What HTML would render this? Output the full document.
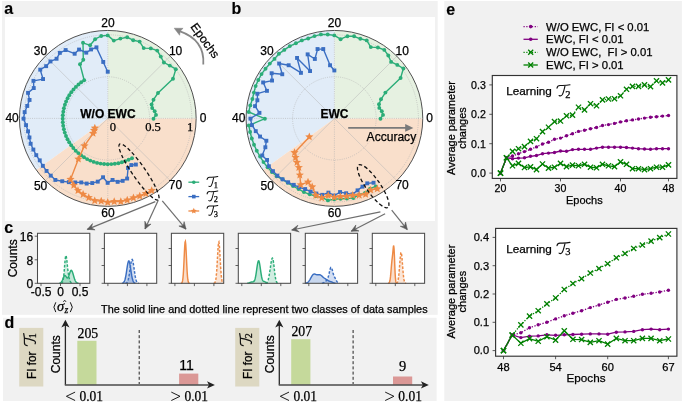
<!DOCTYPE html>
<html><head><meta charset="utf-8"><style>
html,body{margin:0;padding:0;background:#fff}
body{width:685px;height:402px;overflow:hidden;position:relative;font-family:"Liberation Sans",sans-serif}
svg{position:absolute;left:0;top:0;display:block;will-change:transform}
text{stroke:#000;stroke-width:0.25px}
</style></head><body>
<svg width="685" height="402" viewBox="0 0 685 402">
<rect x="0" y="0" width="685" height="402" fill="#fff"/>
<rect x="2" y="1" width="435.7" height="313.8" fill="#f1f1f1"/>
<rect x="3" y="317.8" width="433.6" height="83.2" fill="#f1f1f1"/>
<rect x="444.3" y="1" width="237.6" height="400" fill="#f1f1f1"/>
<rect x="5" y="17" width="430" height="204" fill="#fff"/>
<text x="4.2" y="14.2" font-family='"Liberation Sans", sans-serif' font-size="16" font-weight="bold" style="stroke-width:0.15px">a</text>
<text x="231.4" y="14.0" font-family='"Liberation Sans", sans-serif' font-size="16" font-weight="bold" style="stroke-width:0.15px">b</text>
<text x="4.3" y="233" font-family='"Liberation Sans", sans-serif' font-size="16" font-weight="bold" style="stroke-width:0.15px">c</text>
<text x="4.5" y="327.5" font-family='"Liberation Sans", sans-serif' font-size="16" font-weight="bold" style="stroke-width:0.15px">d</text>
<text x="446.3" y="14.6" font-family='"Liberation Sans", sans-serif' font-size="16" font-weight="bold" style="stroke-width:0.15px">e</text>
<g transform="translate(107.8,118.4) scale(1,0.99547) translate(-107.8,-118.4)">
<path d="M107.8,118.4 L196.15,118.40 A88.35,88.35 0 0 0 107.80,30.05 Z" fill="#e6f1e1"/>
<path d="M107.8,118.4 L107.80,30.05 A88.35,88.35 0 0 0 36.32,170.33 Z" fill="#e1ecf8"/>
<path d="M107.8,118.4 L36.32,170.33 A88.35,88.35 0 0 0 196.15,118.40 Z" fill="#f9dfcb"/>
<circle cx="107.8" cy="118.4" r="41.8" fill="none" stroke="#b0b0b0" stroke-width="0.6" stroke-dasharray="1,1.2"/>
<circle cx="107.8" cy="118.4" r="84" fill="none" stroke="#b0b0b0" stroke-width="0.6" stroke-dasharray="1,1.2"/>
<line x1="107.8" y1="118.4" x2="196.15" y2="118.40" stroke="#b0b0b0" stroke-width="0.6" stroke-dasharray="1,1.2"/>
<line x1="107.8" y1="118.4" x2="170.27" y2="55.93" stroke="#b4b4b4" stroke-width="0.5"/>
<line x1="107.8" y1="118.4" x2="107.80" y2="30.05" stroke="#b0b0b0" stroke-width="0.6" stroke-dasharray="1,1.2"/>
<line x1="107.8" y1="118.4" x2="45.33" y2="55.93" stroke="#b4b4b4" stroke-width="0.5"/>
<line x1="107.8" y1="118.4" x2="19.45" y2="118.40" stroke="#b0b0b0" stroke-width="0.6" stroke-dasharray="1,1.2"/>
<line x1="107.8" y1="118.4" x2="45.33" y2="180.87" stroke="#b4b4b4" stroke-width="0.5"/>
<line x1="107.8" y1="118.4" x2="107.80" y2="206.75" stroke="#b0b0b0" stroke-width="0.6" stroke-dasharray="1,1.2"/>
<line x1="107.8" y1="118.4" x2="170.27" y2="180.87" stroke="#b4b4b4" stroke-width="0.5"/>
<circle cx="107.8" cy="118.4" r="88.35" fill="none" stroke="#505050" stroke-width="1"/>
</g>
<text x="203.0" y="121.8" font-family='"Liberation Sans", sans-serif' font-size="12" text-anchor="middle">0</text>
<text x="175.6" y="54.5" font-family='"Liberation Sans", sans-serif' font-size="12" text-anchor="middle">10</text>
<text x="107.9" y="27.0" font-family='"Liberation Sans", sans-serif' font-size="12" text-anchor="middle">20</text>
<text x="40.4" y="54.9" font-family='"Liberation Sans", sans-serif' font-size="12" text-anchor="middle">30</text>
<text x="12.1" y="122.0" font-family='"Liberation Sans", sans-serif' font-size="12" text-anchor="middle">40</text>
<text x="40.6" y="189.7" font-family='"Liberation Sans", sans-serif' font-size="12" text-anchor="middle">50</text>
<text x="107.9" y="216.9" font-family='"Liberation Sans", sans-serif' font-size="12" text-anchor="middle">60</text>
<text x="175.5" y="189.4" font-family='"Liberation Sans", sans-serif' font-size="12" text-anchor="middle">70</text>
<polyline points="153.5,118.7 156.0,114.9 154.7,111.3 152.2,108.0 151.6,104.4 153.5,99.7 158.0,93.0 173.0,78.7 175.8,69.2 169.8,65.6 163.9,62.5 160.8,56.6 157.2,50.6 150.8,48.4 143.7,48.1 139.6,41.6 133.2,40.2 127.2,37.3 120.4,38.6 113.8,40.6 107.7,35.4 101.2,36.0 95.1,39.2 90.1,45.3 83.0,42.8 83.3,59.8 80.0,64.3 84.2,80.3 81.2,82.3 78.5,84.5 75.9,86.9 73.5,89.5 71.3,92.2 69.3,95.2 67.6,98.3 66.1,101.5 64.9,104.8 63.9,108.2 63.3,111.7 62.8,115.2 62.7,118.7 62.8,122.2 63.2,125.7 63.9,129.2 64.8,132.6 66.0,136.0 67.5,139.2 69.2,142.3 71.2,145.2 73.3,148.0 75.7,150.7 78.3,153.1 81.1,155.3 84.0,157.3 87.1,159.1 90.3,160.6 93.7,161.9 97.1,162.9 100.6,163.6 104.1,164.0 107.7,164.2 111.3,164.1 114.8,163.8 118.4,163.2 121.9,162.3 125.3,161.1 128.6,159.7 132.0,158.3" fill="none" stroke="#2bad78" stroke-width="1.4" stroke-linejoin="round" />
<circle cx="153.5" cy="118.7" r="1.95" fill="#2bad78"/>
<circle cx="156.0" cy="114.9" r="1.95" fill="#2bad78"/>
<circle cx="154.7" cy="111.3" r="1.95" fill="#2bad78"/>
<circle cx="152.2" cy="108.0" r="1.95" fill="#2bad78"/>
<circle cx="151.6" cy="104.4" r="1.95" fill="#2bad78"/>
<circle cx="153.5" cy="99.7" r="1.95" fill="#2bad78"/>
<circle cx="158.0" cy="93.0" r="1.95" fill="#2bad78"/>
<circle cx="173.0" cy="78.7" r="1.95" fill="#2bad78"/>
<circle cx="175.8" cy="69.2" r="1.95" fill="#2bad78"/>
<circle cx="169.8" cy="65.6" r="1.95" fill="#2bad78"/>
<circle cx="163.9" cy="62.5" r="1.95" fill="#2bad78"/>
<circle cx="160.8" cy="56.6" r="1.95" fill="#2bad78"/>
<circle cx="157.2" cy="50.6" r="1.95" fill="#2bad78"/>
<circle cx="150.8" cy="48.4" r="1.95" fill="#2bad78"/>
<circle cx="143.7" cy="48.1" r="1.95" fill="#2bad78"/>
<circle cx="139.6" cy="41.6" r="1.95" fill="#2bad78"/>
<circle cx="133.2" cy="40.2" r="1.95" fill="#2bad78"/>
<circle cx="127.2" cy="37.3" r="1.95" fill="#2bad78"/>
<circle cx="120.4" cy="38.6" r="1.95" fill="#2bad78"/>
<circle cx="113.8" cy="40.6" r="1.95" fill="#2bad78"/>
<circle cx="107.7" cy="35.4" r="1.95" fill="#2bad78"/>
<circle cx="101.2" cy="36.0" r="1.95" fill="#2bad78"/>
<circle cx="95.1" cy="39.2" r="1.95" fill="#2bad78"/>
<circle cx="90.1" cy="45.3" r="1.95" fill="#2bad78"/>
<circle cx="83.0" cy="42.8" r="1.95" fill="#2bad78"/>
<circle cx="83.3" cy="59.8" r="1.95" fill="#2bad78"/>
<circle cx="80.0" cy="64.3" r="1.95" fill="#2bad78"/>
<circle cx="84.2" cy="80.3" r="1.95" fill="#2bad78"/>
<circle cx="81.2" cy="82.3" r="1.95" fill="#2bad78"/>
<circle cx="78.5" cy="84.5" r="1.95" fill="#2bad78"/>
<circle cx="75.9" cy="86.9" r="1.95" fill="#2bad78"/>
<circle cx="73.5" cy="89.5" r="1.95" fill="#2bad78"/>
<circle cx="71.3" cy="92.2" r="1.95" fill="#2bad78"/>
<circle cx="69.3" cy="95.2" r="1.95" fill="#2bad78"/>
<circle cx="67.6" cy="98.3" r="1.95" fill="#2bad78"/>
<circle cx="66.1" cy="101.5" r="1.95" fill="#2bad78"/>
<circle cx="64.9" cy="104.8" r="1.95" fill="#2bad78"/>
<circle cx="63.9" cy="108.2" r="1.95" fill="#2bad78"/>
<circle cx="63.3" cy="111.7" r="1.95" fill="#2bad78"/>
<circle cx="62.8" cy="115.2" r="1.95" fill="#2bad78"/>
<circle cx="62.7" cy="118.7" r="1.95" fill="#2bad78"/>
<circle cx="62.8" cy="122.2" r="1.95" fill="#2bad78"/>
<circle cx="63.2" cy="125.7" r="1.95" fill="#2bad78"/>
<circle cx="63.9" cy="129.2" r="1.95" fill="#2bad78"/>
<circle cx="64.8" cy="132.6" r="1.95" fill="#2bad78"/>
<circle cx="66.0" cy="136.0" r="1.95" fill="#2bad78"/>
<circle cx="67.5" cy="139.2" r="1.95" fill="#2bad78"/>
<circle cx="69.2" cy="142.3" r="1.95" fill="#2bad78"/>
<circle cx="71.2" cy="145.2" r="1.95" fill="#2bad78"/>
<circle cx="73.3" cy="148.0" r="1.95" fill="#2bad78"/>
<circle cx="75.7" cy="150.7" r="1.95" fill="#2bad78"/>
<circle cx="78.3" cy="153.1" r="1.95" fill="#2bad78"/>
<circle cx="81.1" cy="155.3" r="1.95" fill="#2bad78"/>
<circle cx="84.0" cy="157.3" r="1.95" fill="#2bad78"/>
<circle cx="87.1" cy="159.1" r="1.95" fill="#2bad78"/>
<circle cx="90.3" cy="160.6" r="1.95" fill="#2bad78"/>
<circle cx="93.7" cy="161.9" r="1.95" fill="#2bad78"/>
<circle cx="97.1" cy="162.9" r="1.95" fill="#2bad78"/>
<circle cx="100.6" cy="163.6" r="1.95" fill="#2bad78"/>
<circle cx="104.1" cy="164.0" r="1.95" fill="#2bad78"/>
<circle cx="107.7" cy="164.2" r="1.95" fill="#2bad78"/>
<circle cx="111.3" cy="164.1" r="1.95" fill="#2bad78"/>
<circle cx="114.8" cy="163.8" r="1.95" fill="#2bad78"/>
<circle cx="118.4" cy="163.2" r="1.95" fill="#2bad78"/>
<circle cx="121.9" cy="162.3" r="1.95" fill="#2bad78"/>
<circle cx="125.3" cy="161.1" r="1.95" fill="#2bad78"/>
<circle cx="128.6" cy="159.7" r="1.95" fill="#2bad78"/>
<circle cx="132.0" cy="158.3" r="1.95" fill="#2bad78"/>
<polyline points="107.7,71.7 103.2,62.0 96.4,47.4 91.1,49.5 86.3,52.7 79.0,49.5 74.6,53.7 65.6,50.1 59.9,52.8 56.5,58.8 50.4,61.4 46.2,66.2 40.2,69.7 43.1,79.1 33.5,80.9 33.8,88.1 28.1,92.8 29.5,99.9 27.2,106.0 24.7,112.2 23.5,118.7 26.1,125.1 28.1,131.3 29.4,137.5 30.7,143.7 33.3,149.5 36.2,155.1 39.7,160.3 42.8,165.8 46.6,170.9 50.8,175.6 55.4,180.0 62.3,181.2 68.8,182.1 75.2,182.4 81.3,182.4 86.6,183.6 92.2,183.1 97.7,181.6 103.1,177.2 107.7,182.8 112.5,179.9 117.7,181.8 122.6,180.8 127.1,178.5 128.1,167.9 131.3,165.0 135.8,164.6" fill="none" stroke="#3a6ec2" stroke-width="1.4" stroke-linejoin="round" />
<rect x="105.8" y="69.8" width="3.9" height="3.9" fill="#3a6ec2"/>
<rect x="101.3" y="60.0" width="3.9" height="3.9" fill="#3a6ec2"/>
<rect x="94.5" y="45.4" width="3.9" height="3.9" fill="#3a6ec2"/>
<rect x="89.1" y="47.5" width="3.9" height="3.9" fill="#3a6ec2"/>
<rect x="84.3" y="50.7" width="3.9" height="3.9" fill="#3a6ec2"/>
<rect x="77.1" y="47.6" width="3.9" height="3.9" fill="#3a6ec2"/>
<rect x="72.7" y="51.8" width="3.9" height="3.9" fill="#3a6ec2"/>
<rect x="63.7" y="48.1" width="3.9" height="3.9" fill="#3a6ec2"/>
<rect x="57.9" y="50.9" width="3.9" height="3.9" fill="#3a6ec2"/>
<rect x="54.6" y="56.8" width="3.9" height="3.9" fill="#3a6ec2"/>
<rect x="48.5" y="59.5" width="3.9" height="3.9" fill="#3a6ec2"/>
<rect x="44.2" y="64.2" width="3.9" height="3.9" fill="#3a6ec2"/>
<rect x="38.3" y="67.7" width="3.9" height="3.9" fill="#3a6ec2"/>
<rect x="41.1" y="77.1" width="3.9" height="3.9" fill="#3a6ec2"/>
<rect x="31.5" y="78.9" width="3.9" height="3.9" fill="#3a6ec2"/>
<rect x="31.8" y="86.1" width="3.9" height="3.9" fill="#3a6ec2"/>
<rect x="26.1" y="90.9" width="3.9" height="3.9" fill="#3a6ec2"/>
<rect x="27.6" y="98.0" width="3.9" height="3.9" fill="#3a6ec2"/>
<rect x="25.3" y="104.0" width="3.9" height="3.9" fill="#3a6ec2"/>
<rect x="22.7" y="110.2" width="3.9" height="3.9" fill="#3a6ec2"/>
<rect x="21.6" y="116.7" width="3.9" height="3.9" fill="#3a6ec2"/>
<rect x="24.1" y="123.2" width="3.9" height="3.9" fill="#3a6ec2"/>
<rect x="26.1" y="129.4" width="3.9" height="3.9" fill="#3a6ec2"/>
<rect x="27.5" y="135.5" width="3.9" height="3.9" fill="#3a6ec2"/>
<rect x="28.7" y="141.8" width="3.9" height="3.9" fill="#3a6ec2"/>
<rect x="31.4" y="147.6" width="3.9" height="3.9" fill="#3a6ec2"/>
<rect x="34.3" y="153.2" width="3.9" height="3.9" fill="#3a6ec2"/>
<rect x="37.8" y="158.4" width="3.9" height="3.9" fill="#3a6ec2"/>
<rect x="40.9" y="163.9" width="3.9" height="3.9" fill="#3a6ec2"/>
<rect x="44.6" y="169.0" width="3.9" height="3.9" fill="#3a6ec2"/>
<rect x="48.8" y="173.7" width="3.9" height="3.9" fill="#3a6ec2"/>
<rect x="53.4" y="178.0" width="3.9" height="3.9" fill="#3a6ec2"/>
<rect x="60.3" y="179.3" width="3.9" height="3.9" fill="#3a6ec2"/>
<rect x="66.9" y="180.2" width="3.9" height="3.9" fill="#3a6ec2"/>
<rect x="73.3" y="180.5" width="3.9" height="3.9" fill="#3a6ec2"/>
<rect x="79.3" y="180.5" width="3.9" height="3.9" fill="#3a6ec2"/>
<rect x="84.7" y="181.6" width="3.9" height="3.9" fill="#3a6ec2"/>
<rect x="90.3" y="181.1" width="3.9" height="3.9" fill="#3a6ec2"/>
<rect x="95.8" y="179.7" width="3.9" height="3.9" fill="#3a6ec2"/>
<rect x="101.1" y="175.3" width="3.9" height="3.9" fill="#3a6ec2"/>
<rect x="105.7" y="180.9" width="3.9" height="3.9" fill="#3a6ec2"/>
<rect x="110.6" y="178.0" width="3.9" height="3.9" fill="#3a6ec2"/>
<rect x="115.7" y="179.9" width="3.9" height="3.9" fill="#3a6ec2"/>
<rect x="120.7" y="178.9" width="3.9" height="3.9" fill="#3a6ec2"/>
<rect x="125.2" y="176.6" width="3.9" height="3.9" fill="#3a6ec2"/>
<rect x="126.1" y="166.0" width="3.9" height="3.9" fill="#3a6ec2"/>
<rect x="129.4" y="163.1" width="3.9" height="3.9" fill="#3a6ec2"/>
<rect x="133.9" y="162.6" width="3.9" height="3.9" fill="#3a6ec2"/>
<polyline points="94.8,128.0 94.0,130.4 93.1,133.3 84.4,145.9 78.4,159.1 70.5,179.4 73.8,185.3 78.0,190.5 83.1,194.4 88.7,197.7 94.7,200.7 101.2,200.9 107.7,202.2 114.2,201.5 120.8,201.6 127.2,200.1 133.4,197.9 139.7,196.0 145.8,193.5 151.7,190.5" fill="none" stroke="#ee8a45" stroke-width="1.4" stroke-linejoin="round" />
<path d="M94.84,123.75 L95.97,126.48 L98.93,126.72 L96.68,128.64 L97.36,131.52 L94.84,129.98 L92.31,131.52 L93.00,128.64 L90.75,126.72 L93.70,126.48Z M94.01,126.09 L95.15,128.82 L98.10,129.06 L95.85,130.99 L96.54,133.87 L94.01,132.33 L91.49,133.87 L92.17,130.99 L89.92,129.06 L92.88,128.82Z M93.06,129.04 L94.20,131.77 L97.15,132.01 L94.90,133.94 L95.59,136.82 L93.06,135.27 L90.54,136.82 L91.22,133.94 L88.97,132.01 L91.93,131.77Z M84.45,141.62 L85.59,144.36 L88.54,144.59 L86.29,146.52 L86.98,149.40 L84.45,147.86 L81.92,149.40 L82.61,146.52 L80.36,144.59 L83.31,144.36Z M78.37,154.77 L79.51,157.50 L82.46,157.74 L80.21,159.67 L80.90,162.55 L78.37,161.00 L75.84,162.55 L76.53,159.67 L74.28,157.74 L77.23,157.50Z M70.50,175.11 L71.64,177.84 L74.59,178.08 L72.34,180.01 L73.03,182.89 L70.50,181.34 L67.97,182.89 L68.66,180.01 L66.41,178.08 L69.36,177.84Z M73.79,180.96 L74.92,183.69 L77.88,183.93 L75.63,185.86 L76.31,188.74 L73.79,187.19 L71.26,188.74 L71.95,185.86 L69.70,183.93 L72.65,183.69Z M77.97,186.19 L79.10,188.92 L82.06,189.16 L79.81,191.08 L80.49,193.96 L77.97,192.42 L75.44,193.96 L76.13,191.08 L73.88,189.16 L76.83,188.92Z M83.10,190.10 L84.24,192.84 L87.19,193.08 L84.94,195.00 L85.63,197.88 L83.10,196.34 L80.57,197.88 L81.26,195.00 L79.01,193.08 L81.96,192.84Z M88.74,193.36 L89.88,196.09 L92.83,196.33 L90.58,198.25 L91.27,201.14 L88.74,199.59 L86.22,201.14 L86.90,198.25 L84.65,196.33 L87.61,196.09Z M94.72,196.38 L95.85,199.11 L98.81,199.35 L96.56,201.28 L97.24,204.16 L94.72,202.61 L92.19,204.16 L92.88,201.28 L90.63,199.35 L93.58,199.11Z M101.23,196.65 L102.36,199.38 L105.32,199.62 L103.07,201.54 L103.75,204.42 L101.23,202.88 L98.70,204.42 L99.39,201.54 L97.14,199.62 L100.09,199.38Z M107.70,197.90 L108.84,200.63 L111.79,200.87 L109.54,202.80 L110.23,205.68 L107.70,204.13 L105.17,205.68 L105.86,202.80 L103.61,200.87 L106.56,200.63Z M114.22,197.24 L115.36,199.98 L118.31,200.22 L116.06,202.14 L116.75,205.02 L114.22,203.48 L111.69,205.02 L112.38,202.14 L110.13,200.22 L113.08,199.98Z M120.82,197.27 L121.96,200.00 L124.91,200.24 L122.67,202.16 L123.35,205.05 L120.82,203.50 L118.30,205.05 L118.98,202.16 L116.74,200.24 L119.69,200.00Z M127.24,195.79 L128.38,198.52 L131.33,198.76 L129.08,200.69 L129.77,203.57 L127.24,202.02 L124.71,203.57 L125.40,200.69 L123.15,198.76 L126.10,198.52Z M133.44,193.62 L134.58,196.36 L137.53,196.59 L135.28,198.52 L135.97,201.40 L133.44,199.86 L130.91,201.40 L131.60,198.52 L129.35,196.59 L132.30,196.36Z M139.73,191.73 L140.87,194.46 L143.82,194.70 L141.57,196.63 L142.26,199.51 L139.73,197.96 L137.20,199.51 L137.89,196.63 L135.64,194.70 L138.59,194.46Z M145.84,189.24 L146.97,191.98 L149.92,192.22 L147.68,194.14 L148.36,197.02 L145.84,195.48 L143.31,197.02 L143.99,194.14 L141.75,192.22 L144.70,191.98Z M151.69,186.19 L152.83,188.93 L155.78,189.16 L153.53,191.09 L154.22,193.97 L151.69,192.43 L149.17,193.97 L149.85,191.09 L147.60,189.16 L150.56,188.93Z" fill="#ee8a45"/>
<text x="108.2" y="118.10000000000001" font-family='"Liberation Sans", sans-serif' font-size="12" font-weight="bold" text-anchor="end" dx="27.4">W/O EWC</text>
<text x="112.9" y="130.7" font-family='"Liberation Serif", serif' font-size="12.6" text-anchor="middle">0</text>
<text x="153.0" y="130.7" font-family='"Liberation Serif", serif' font-size="12.6" text-anchor="middle">0.5</text>
<text x="190.2" y="130.7" font-family='"Liberation Serif", serif' font-size="12.6" text-anchor="middle">1</text>
<ellipse cx="139" cy="172" rx="34" ry="6.5" transform="rotate(55.3 139 172)" fill="none" stroke="#111" stroke-width="1.3" stroke-dasharray="3.6,2.6"/>
<g transform="translate(334.40000000000003,118.4) scale(1,0.99547) translate(-334.40000000000003,-118.4)">
<path d="M334.40000000000003,118.4 L422.75,118.40 A88.35,88.35 0 0 0 334.40,30.05 Z" fill="#e6f1e1"/>
<path d="M334.40000000000003,118.4 L334.40,30.05 A88.35,88.35 0 0 0 262.92,170.33 Z" fill="#e1ecf8"/>
<path d="M334.40000000000003,118.4 L262.92,170.33 A88.35,88.35 0 0 0 422.75,118.40 Z" fill="#f9dfcb"/>
<circle cx="334.40000000000003" cy="118.4" r="41.8" fill="none" stroke="#b0b0b0" stroke-width="0.6" stroke-dasharray="1,1.2"/>
<circle cx="334.40000000000003" cy="118.4" r="84" fill="none" stroke="#b0b0b0" stroke-width="0.6" stroke-dasharray="1,1.2"/>
<line x1="334.40000000000003" y1="118.4" x2="422.75" y2="118.40" stroke="#b0b0b0" stroke-width="0.6" stroke-dasharray="1,1.2"/>
<line x1="334.40000000000003" y1="118.4" x2="396.87" y2="55.93" stroke="#b4b4b4" stroke-width="0.5"/>
<line x1="334.40000000000003" y1="118.4" x2="334.40" y2="30.05" stroke="#b0b0b0" stroke-width="0.6" stroke-dasharray="1,1.2"/>
<line x1="334.40000000000003" y1="118.4" x2="271.93" y2="55.93" stroke="#b4b4b4" stroke-width="0.5"/>
<line x1="334.40000000000003" y1="118.4" x2="246.05" y2="118.40" stroke="#b0b0b0" stroke-width="0.6" stroke-dasharray="1,1.2"/>
<line x1="334.40000000000003" y1="118.4" x2="271.93" y2="180.87" stroke="#b4b4b4" stroke-width="0.5"/>
<line x1="334.40000000000003" y1="118.4" x2="334.40" y2="206.75" stroke="#b0b0b0" stroke-width="0.6" stroke-dasharray="1,1.2"/>
<line x1="334.40000000000003" y1="118.4" x2="396.87" y2="180.87" stroke="#b4b4b4" stroke-width="0.5"/>
<circle cx="334.40000000000003" cy="118.4" r="88.35" fill="none" stroke="#505050" stroke-width="1"/>
</g>
<text x="429.6" y="121.8" font-family='"Liberation Sans", sans-serif' font-size="12" text-anchor="middle">0</text>
<text x="402.2" y="54.5" font-family='"Liberation Sans", sans-serif' font-size="12" text-anchor="middle">10</text>
<text x="334.5" y="27.0" font-family='"Liberation Sans", sans-serif' font-size="12" text-anchor="middle">20</text>
<text x="267.0" y="54.9" font-family='"Liberation Sans", sans-serif' font-size="12" text-anchor="middle">30</text>
<text x="238.7" y="122.0" font-family='"Liberation Sans", sans-serif' font-size="12" text-anchor="middle">40</text>
<text x="267.2" y="189.7" font-family='"Liberation Sans", sans-serif' font-size="12" text-anchor="middle">50</text>
<text x="334.5" y="216.9" font-family='"Liberation Sans", sans-serif' font-size="12" text-anchor="middle">60</text>
<text x="402.1" y="189.4" font-family='"Liberation Sans", sans-serif' font-size="12" text-anchor="middle">70</text>
<polyline points="380.5,118.7 383.0,114.9 381.8,111.2 379.3,107.9 379.0,104.2 381.0,99.3 385.4,92.6 400.6,78.0 403.4,68.5 397.3,64.9 391.1,61.9 388.3,55.5 384.3,49.9 377.9,47.5 370.8,47.1 366.7,40.4 360.3,38.8 354.1,36.3 347.4,36.2 340.6,39.2 334.3,35.4 327.7,34.5 320.9,34.4 314.5,36.1 308.2,38.5 301.8,40.4 295.9,43.3 289.8,46.1 284.3,49.9 278.9,53.8 274.5,58.9 269.8,63.6 265.5,68.7 261.5,74.1 258.3,80.0 255.6,86.1 253.9,92.6 252.4,99.0 250.3,105.4 248.7,112.0 264.9,118.7 248.8,125.4 250.1,132.0 251.8,138.5 254.0,144.8 256.8,150.8 260.1,156.5 263.5,162.1 267.6,167.2 271.9,172.0 276.7,176.3 282.5,179.3 287.7,182.8 293.0,186.1 298.5,189.0 303.9,192.1 309.7,194.3 315.7,196.2 321.8,197.4 327.9,200.4 334.3,199.2 340.6,198.8 346.9,198.5 353.4,198.1 359.0,194.7 365.0,192.9 370.0,188.7 375.8,186.5" fill="none" stroke="#2bad78" stroke-width="1.4" stroke-linejoin="round" />
<circle cx="380.5" cy="118.7" r="1.95" fill="#2bad78"/>
<circle cx="383.0" cy="114.9" r="1.95" fill="#2bad78"/>
<circle cx="381.8" cy="111.2" r="1.95" fill="#2bad78"/>
<circle cx="379.3" cy="107.9" r="1.95" fill="#2bad78"/>
<circle cx="379.0" cy="104.2" r="1.95" fill="#2bad78"/>
<circle cx="381.0" cy="99.3" r="1.95" fill="#2bad78"/>
<circle cx="385.4" cy="92.6" r="1.95" fill="#2bad78"/>
<circle cx="400.6" cy="78.0" r="1.95" fill="#2bad78"/>
<circle cx="403.4" cy="68.5" r="1.95" fill="#2bad78"/>
<circle cx="397.3" cy="64.9" r="1.95" fill="#2bad78"/>
<circle cx="391.1" cy="61.9" r="1.95" fill="#2bad78"/>
<circle cx="388.3" cy="55.5" r="1.95" fill="#2bad78"/>
<circle cx="384.3" cy="49.9" r="1.95" fill="#2bad78"/>
<circle cx="377.9" cy="47.5" r="1.95" fill="#2bad78"/>
<circle cx="370.8" cy="47.1" r="1.95" fill="#2bad78"/>
<circle cx="366.7" cy="40.4" r="1.95" fill="#2bad78"/>
<circle cx="360.3" cy="38.8" r="1.95" fill="#2bad78"/>
<circle cx="354.1" cy="36.3" r="1.95" fill="#2bad78"/>
<circle cx="347.4" cy="36.2" r="1.95" fill="#2bad78"/>
<circle cx="340.6" cy="39.2" r="1.95" fill="#2bad78"/>
<circle cx="334.3" cy="35.4" r="1.95" fill="#2bad78"/>
<circle cx="327.7" cy="34.5" r="1.95" fill="#2bad78"/>
<circle cx="320.9" cy="34.4" r="1.95" fill="#2bad78"/>
<circle cx="314.5" cy="36.1" r="1.95" fill="#2bad78"/>
<circle cx="308.2" cy="38.5" r="1.95" fill="#2bad78"/>
<circle cx="301.8" cy="40.4" r="1.95" fill="#2bad78"/>
<circle cx="295.9" cy="43.3" r="1.95" fill="#2bad78"/>
<circle cx="289.8" cy="46.1" r="1.95" fill="#2bad78"/>
<circle cx="284.3" cy="49.9" r="1.95" fill="#2bad78"/>
<circle cx="278.9" cy="53.8" r="1.95" fill="#2bad78"/>
<circle cx="274.5" cy="58.9" r="1.95" fill="#2bad78"/>
<circle cx="269.8" cy="63.6" r="1.95" fill="#2bad78"/>
<circle cx="265.5" cy="68.7" r="1.95" fill="#2bad78"/>
<circle cx="261.5" cy="74.1" r="1.95" fill="#2bad78"/>
<circle cx="258.3" cy="80.0" r="1.95" fill="#2bad78"/>
<circle cx="255.6" cy="86.1" r="1.95" fill="#2bad78"/>
<circle cx="253.9" cy="92.6" r="1.95" fill="#2bad78"/>
<circle cx="252.4" cy="99.0" r="1.95" fill="#2bad78"/>
<circle cx="250.3" cy="105.4" r="1.95" fill="#2bad78"/>
<circle cx="248.7" cy="112.0" r="1.95" fill="#2bad78"/>
<circle cx="264.9" cy="118.7" r="1.95" fill="#2bad78"/>
<circle cx="248.8" cy="125.4" r="1.95" fill="#2bad78"/>
<circle cx="250.1" cy="132.0" r="1.95" fill="#2bad78"/>
<circle cx="251.8" cy="138.5" r="1.95" fill="#2bad78"/>
<circle cx="254.0" cy="144.8" r="1.95" fill="#2bad78"/>
<circle cx="256.8" cy="150.8" r="1.95" fill="#2bad78"/>
<circle cx="260.1" cy="156.5" r="1.95" fill="#2bad78"/>
<circle cx="263.5" cy="162.1" r="1.95" fill="#2bad78"/>
<circle cx="267.6" cy="167.2" r="1.95" fill="#2bad78"/>
<circle cx="271.9" cy="172.0" r="1.95" fill="#2bad78"/>
<circle cx="276.7" cy="176.3" r="1.95" fill="#2bad78"/>
<circle cx="282.5" cy="179.3" r="1.95" fill="#2bad78"/>
<circle cx="287.7" cy="182.8" r="1.95" fill="#2bad78"/>
<circle cx="293.0" cy="186.1" r="1.95" fill="#2bad78"/>
<circle cx="298.5" cy="189.0" r="1.95" fill="#2bad78"/>
<circle cx="303.9" cy="192.1" r="1.95" fill="#2bad78"/>
<circle cx="309.7" cy="194.3" r="1.95" fill="#2bad78"/>
<circle cx="315.7" cy="196.2" r="1.95" fill="#2bad78"/>
<circle cx="321.8" cy="197.4" r="1.95" fill="#2bad78"/>
<circle cx="327.9" cy="200.4" r="1.95" fill="#2bad78"/>
<circle cx="334.3" cy="199.2" r="1.95" fill="#2bad78"/>
<circle cx="340.6" cy="198.8" r="1.95" fill="#2bad78"/>
<circle cx="346.9" cy="198.5" r="1.95" fill="#2bad78"/>
<circle cx="353.4" cy="198.1" r="1.95" fill="#2bad78"/>
<circle cx="359.0" cy="194.7" r="1.95" fill="#2bad78"/>
<circle cx="365.0" cy="192.9" r="1.95" fill="#2bad78"/>
<circle cx="370.0" cy="188.7" r="1.95" fill="#2bad78"/>
<circle cx="375.8" cy="186.5" r="1.95" fill="#2bad78"/>
<polyline points="334.3,70.5 330.1,65.3 323.3,49.1 317.6,49.1 314.9,59.0 307.7,54.4 310.0,71.0 297.0,57.9 301.0,72.8 288.6,65.2 279.1,63.5 282.3,74.3 271.7,73.2 272.1,80.6 263.2,82.5 266.9,90.8 257.4,93.7 257.4,100.2 255.1,106.2 259.4,112.8 250.4,118.7 252.0,125.2 255.8,131.1 260.0,136.5 266.4,140.8 265.4,147.2 262.2,155.4 267.0,159.9 268.9,166.3 272.9,171.1 277.4,175.6 282.5,179.3 288.1,182.3 293.8,184.9 299.3,187.4 305.1,189.1 310.6,191.6 316.3,193.6 322.2,194.9 328.5,192.7 334.3,195.5 340.1,192.1 346.1,193.3 352.5,194.4 357.6,190.3 362.4,186.6 367.3,183.4 373.5,182.7" fill="none" stroke="#3a6ec2" stroke-width="1.4" stroke-linejoin="round" />
<rect x="332.4" y="68.5" width="3.9" height="3.9" fill="#3a6ec2"/>
<rect x="328.1" y="63.3" width="3.9" height="3.9" fill="#3a6ec2"/>
<rect x="321.3" y="47.1" width="3.9" height="3.9" fill="#3a6ec2"/>
<rect x="315.6" y="47.1" width="3.9" height="3.9" fill="#3a6ec2"/>
<rect x="312.9" y="57.0" width="3.9" height="3.9" fill="#3a6ec2"/>
<rect x="305.7" y="52.4" width="3.9" height="3.9" fill="#3a6ec2"/>
<rect x="308.1" y="69.1" width="3.9" height="3.9" fill="#3a6ec2"/>
<rect x="295.1" y="56.0" width="3.9" height="3.9" fill="#3a6ec2"/>
<rect x="299.0" y="70.9" width="3.9" height="3.9" fill="#3a6ec2"/>
<rect x="286.7" y="63.3" width="3.9" height="3.9" fill="#3a6ec2"/>
<rect x="277.2" y="61.6" width="3.9" height="3.9" fill="#3a6ec2"/>
<rect x="280.3" y="72.3" width="3.9" height="3.9" fill="#3a6ec2"/>
<rect x="269.7" y="71.3" width="3.9" height="3.9" fill="#3a6ec2"/>
<rect x="270.1" y="78.6" width="3.9" height="3.9" fill="#3a6ec2"/>
<rect x="261.2" y="80.5" width="3.9" height="3.9" fill="#3a6ec2"/>
<rect x="265.0" y="88.9" width="3.9" height="3.9" fill="#3a6ec2"/>
<rect x="255.4" y="91.8" width="3.9" height="3.9" fill="#3a6ec2"/>
<rect x="255.4" y="98.3" width="3.9" height="3.9" fill="#3a6ec2"/>
<rect x="253.1" y="104.2" width="3.9" height="3.9" fill="#3a6ec2"/>
<rect x="257.5" y="110.9" width="3.9" height="3.9" fill="#3a6ec2"/>
<rect x="248.5" y="116.7" width="3.9" height="3.9" fill="#3a6ec2"/>
<rect x="250.0" y="123.2" width="3.9" height="3.9" fill="#3a6ec2"/>
<rect x="253.8" y="129.2" width="3.9" height="3.9" fill="#3a6ec2"/>
<rect x="258.1" y="134.6" width="3.9" height="3.9" fill="#3a6ec2"/>
<rect x="264.4" y="138.8" width="3.9" height="3.9" fill="#3a6ec2"/>
<rect x="263.4" y="145.3" width="3.9" height="3.9" fill="#3a6ec2"/>
<rect x="260.3" y="153.5" width="3.9" height="3.9" fill="#3a6ec2"/>
<rect x="265.1" y="158.0" width="3.9" height="3.9" fill="#3a6ec2"/>
<rect x="266.9" y="164.3" width="3.9" height="3.9" fill="#3a6ec2"/>
<rect x="271.0" y="169.2" width="3.9" height="3.9" fill="#3a6ec2"/>
<rect x="275.4" y="173.7" width="3.9" height="3.9" fill="#3a6ec2"/>
<rect x="280.6" y="177.4" width="3.9" height="3.9" fill="#3a6ec2"/>
<rect x="286.2" y="180.3" width="3.9" height="3.9" fill="#3a6ec2"/>
<rect x="291.8" y="182.9" width="3.9" height="3.9" fill="#3a6ec2"/>
<rect x="297.3" y="185.4" width="3.9" height="3.9" fill="#3a6ec2"/>
<rect x="303.2" y="187.1" width="3.9" height="3.9" fill="#3a6ec2"/>
<rect x="308.7" y="189.6" width="3.9" height="3.9" fill="#3a6ec2"/>
<rect x="314.4" y="191.6" width="3.9" height="3.9" fill="#3a6ec2"/>
<rect x="320.3" y="192.9" width="3.9" height="3.9" fill="#3a6ec2"/>
<rect x="326.5" y="190.7" width="3.9" height="3.9" fill="#3a6ec2"/>
<rect x="332.4" y="193.6" width="3.9" height="3.9" fill="#3a6ec2"/>
<rect x="338.1" y="190.1" width="3.9" height="3.9" fill="#3a6ec2"/>
<rect x="344.2" y="191.3" width="3.9" height="3.9" fill="#3a6ec2"/>
<rect x="350.5" y="192.4" width="3.9" height="3.9" fill="#3a6ec2"/>
<rect x="355.6" y="188.4" width="3.9" height="3.9" fill="#3a6ec2"/>
<rect x="360.5" y="184.7" width="3.9" height="3.9" fill="#3a6ec2"/>
<rect x="365.3" y="181.4" width="3.9" height="3.9" fill="#3a6ec2"/>
<rect x="371.6" y="180.8" width="3.9" height="3.9" fill="#3a6ec2"/>
<polyline points="309.3,136.9 294.5,152.7 295.6,157.4 297.0,162.4 298.9,167.5 299.8,175.0 300.7,184.7 308.0,182.2 312.2,186.8 315.9,195.4 321.8,197.9 328.3,195.5 334.3,197.2 340.4,196.5 346.6,196.2 352.7,195.3 359.1,195.2 365.6,194.4 370.6,190.0 377.3,188.9" fill="none" stroke="#ee8a45" stroke-width="1.4" stroke-linejoin="round" />
<path d="M309.30,132.56 L310.44,135.30 L313.39,135.53 L311.14,137.46 L311.83,140.34 L309.30,138.80 L306.77,140.34 L307.46,137.46 L305.21,135.53 L308.16,135.30Z M294.53,148.37 L295.67,151.10 L298.62,151.34 L296.37,153.26 L297.06,156.14 L294.53,154.60 L292.00,156.14 L292.69,153.26 L290.44,151.34 L293.39,151.10Z M295.55,153.15 L296.69,155.88 L299.64,156.12 L297.39,158.05 L298.08,160.93 L295.55,159.38 L293.02,160.93 L293.71,158.05 L291.46,156.12 L294.41,155.88Z M296.96,158.12 L298.09,160.86 L301.05,161.09 L298.80,163.02 L299.48,165.90 L296.96,164.36 L294.43,165.90 L295.12,163.02 L292.87,161.09 L295.82,160.86Z M298.86,163.18 L299.99,165.92 L302.95,166.15 L300.70,168.08 L301.38,170.96 L298.86,169.42 L296.33,170.96 L297.02,168.08 L294.77,166.15 L297.72,165.92Z M299.82,170.67 L300.95,173.41 L303.90,173.65 L301.66,175.57 L302.34,178.45 L299.82,176.91 L297.29,178.45 L297.97,175.57 L295.73,173.65 L298.68,173.41Z M300.66,180.42 L301.80,183.16 L304.75,183.39 L302.50,185.32 L303.19,188.20 L300.66,186.66 L298.13,188.20 L298.82,185.32 L296.57,183.39 L299.52,183.16Z M308.01,177.87 L309.15,180.61 L312.10,180.84 L309.85,182.77 L310.54,185.65 L308.01,184.11 L305.48,185.65 L306.17,182.77 L303.92,180.84 L306.87,180.61Z M312.17,182.50 L313.31,185.23 L316.26,185.47 L314.01,187.39 L314.70,190.27 L312.17,188.73 L309.65,190.27 L310.33,187.39 L308.08,185.47 L311.04,185.23Z M315.88,191.12 L317.02,193.85 L319.97,194.09 L317.72,196.02 L318.41,198.90 L315.88,197.35 L313.35,198.90 L314.04,196.02 L311.79,194.09 L314.74,193.85Z M321.75,193.61 L322.89,196.35 L325.84,196.58 L323.59,198.51 L324.28,201.39 L321.75,199.85 L319.23,201.39 L319.91,198.51 L317.66,196.58 L320.62,196.35Z M328.26,191.16 L329.40,193.90 L332.35,194.13 L330.10,196.06 L330.79,198.94 L328.26,197.40 L325.73,198.94 L326.42,196.06 L324.17,194.13 L327.12,193.90Z M334.30,192.90 L335.44,195.63 L338.39,195.87 L336.14,197.80 L336.83,200.68 L334.30,199.13 L331.77,200.68 L332.46,197.80 L330.21,195.87 L333.16,195.63Z M340.42,192.16 L341.56,194.89 L344.51,195.13 L342.26,197.06 L342.95,199.94 L340.42,198.39 L337.89,199.94 L338.58,197.06 L336.33,195.13 L339.28,194.89Z M346.58,191.93 L347.72,194.67 L350.67,194.90 L348.42,196.83 L349.11,199.71 L346.58,198.17 L344.05,199.71 L344.74,196.83 L342.49,194.90 L345.44,194.67Z M352.70,191.02 L353.83,193.76 L356.79,193.99 L354.54,195.92 L355.22,198.80 L352.70,197.26 L350.17,198.80 L350.86,195.92 L348.61,193.99 L351.56,193.76Z M359.14,190.86 L360.28,193.60 L363.23,193.84 L360.99,195.76 L361.67,198.64 L359.14,197.10 L356.62,198.64 L357.30,195.76 L355.06,193.84 L358.01,193.60Z M365.64,190.07 L366.78,192.80 L369.73,193.04 L367.48,194.96 L368.17,197.84 L365.64,196.30 L363.11,197.84 L363.80,194.96 L361.55,193.04 L364.50,192.80Z M370.62,185.68 L371.76,188.42 L374.71,188.65 L372.46,190.58 L373.15,193.46 L370.62,191.92 L368.09,193.46 L368.78,190.58 L366.53,188.65 L369.48,188.42Z M377.30,184.57 L378.44,187.31 L381.39,187.54 L379.14,189.47 L379.83,192.35 L377.30,190.81 L374.77,192.35 L375.46,189.47 L373.21,187.54 L376.16,187.31Z" fill="#ee8a45"/>
<text x="334.8" y="118.10000000000001" font-family='"Liberation Sans", sans-serif' font-size="12" font-weight="bold" text-anchor="end" dx="13.7">EWC</text>
<ellipse cx="373.2" cy="186.2" rx="25.8" ry="7" transform="rotate(55.3 373.2 186.2)" fill="none" stroke="#111" stroke-width="1.3" stroke-dasharray="3.6,2.6"/>
<line x1="155.3" y1="201.6" x2="87.3" y2="229.4" stroke="#6e6e6e" stroke-width="1.2"/>
<path d="M87.30,229.40 L92.49,223.60 L91.32,227.76 L95.07,229.90 Z" fill="#5a5a5a" stroke="#5a5a5a" stroke-width="0.6" stroke-linejoin="round"/>
<line x1="158" y1="200.8" x2="145" y2="229" stroke="#6e6e6e" stroke-width="1.2"/>
<path d="M145.00,229.00 L144.84,221.22 L146.82,225.06 L151.02,224.07 Z" fill="#5a5a5a" stroke="#5a5a5a" stroke-width="0.6" stroke-linejoin="round"/>
<line x1="162.3" y1="200.8" x2="186" y2="229.2" stroke="#6e6e6e" stroke-width="1.2"/>
<path d="M186.00,229.20 L178.90,226.00 L183.22,225.87 L184.13,221.65 Z" fill="#5a5a5a" stroke="#5a5a5a" stroke-width="0.6" stroke-linejoin="round"/>
<line x1="380.4" y1="211.8" x2="291.7" y2="230" stroke="#6e6e6e" stroke-width="1.2"/>
<path d="M291.70,230.00 L297.87,225.26 L295.95,229.13 L299.24,231.92 Z" fill="#5a5a5a" stroke="#5a5a5a" stroke-width="0.6" stroke-linejoin="round"/>
<line x1="385.1" y1="213.7" x2="351.2" y2="231.2" stroke="#6e6e6e" stroke-width="1.2"/>
<path d="M351.20,231.20 L355.86,224.97 L355.06,229.21 L358.98,231.01 Z" fill="#5a5a5a" stroke="#5a5a5a" stroke-width="0.6" stroke-linejoin="round"/>
<line x1="391.7" y1="210.2" x2="407.3" y2="229.6" stroke="#6e6e6e" stroke-width="1.2"/>
<path d="M407.30,229.60 L400.26,226.28 L404.58,226.22 L405.56,222.01 Z" fill="#5a5a5a" stroke="#5a5a5a" stroke-width="0.6" stroke-linejoin="round"/>
<rect x="37.5" y="233.3" width="52.3" height="50.0" fill="#fff"/>
<rect x="104.4" y="233.3" width="52.3" height="50.0" fill="#fff"/>
<rect x="171.4" y="233.3" width="52.3" height="50.0" fill="#fff"/>
<rect x="238.3" y="233.3" width="52.3" height="50.0" fill="#fff"/>
<rect x="305.3" y="233.3" width="52.3" height="50.0" fill="#fff"/>
<rect x="372.3" y="233.3" width="52.3" height="50.0" fill="#fff"/>
<path d="M59.40,283.30 L60.00,283.08 L60.35,282.94 L60.70,282.73 L61.05,282.43 L61.40,282.02 L61.75,281.49 L62.10,280.83 L62.45,280.05 L62.80,279.19 L63.15,278.29 L63.50,277.42 L63.85,276.65 L64.20,276.04 L64.55,275.66 L64.90,275.52 L65.25,275.64 L65.60,275.97 L65.95,276.43 L66.30,276.95 L66.65,277.44 L67.00,277.79 L67.35,277.94 L67.70,277.84 L68.05,277.48 L68.40,276.86 L68.75,276.03 L69.10,275.04 L69.45,273.97 L69.80,272.92 L70.15,271.96 L70.50,271.17 L70.85,270.64 L71.20,270.40 L71.55,270.48 L71.90,270.87 L72.25,271.55 L72.60,272.47 L72.95,273.56 L73.30,274.77 L73.65,276.01 L74.00,277.23 L74.35,278.37 L74.70,279.39 L75.05,280.28 L75.40,281.03 L75.75,281.63 L76.10,282.11 L76.45,282.47 L76.80,282.73 L77.15,282.92 L77.50,283.06 L77.85,283.15 L78.45,283.30 Z" fill="#2bad78" fill-opacity="0.28"/>
<path d="M59.40,283.30 L60.00,283.08 L60.35,282.94 L60.70,282.73 L61.05,282.43 L61.40,282.02 L61.75,281.49 L62.10,280.83 L62.45,280.05 L62.80,279.19 L63.15,278.29 L63.50,277.42 L63.85,276.65 L64.20,276.04 L64.55,275.66 L64.90,275.52 L65.25,275.64 L65.60,275.97 L65.95,276.43 L66.30,276.95 L66.65,277.44 L67.00,277.79 L67.35,277.94 L67.70,277.84 L68.05,277.48 L68.40,276.86 L68.75,276.03 L69.10,275.04 L69.45,273.97 L69.80,272.92 L70.15,271.96 L70.50,271.17 L70.85,270.64 L71.20,270.40 L71.55,270.48 L71.90,270.87 L72.25,271.55 L72.60,272.47 L72.95,273.56 L73.30,274.77 L73.65,276.01 L74.00,277.23 L74.35,278.37 L74.70,279.39 L75.05,280.28 L75.40,281.03 L75.75,281.63 L76.10,282.11 L76.45,282.47 L76.80,282.73 L77.15,282.92 L77.50,283.06 L77.85,283.15 L78.45,283.30" fill="none" stroke="#2bad78" stroke-width="1.45"/>
<path d="M61.10,283.30 L61.70,283.12 L62.05,282.90 L62.40,282.46 L62.75,281.65 L63.10,280.31 L63.45,278.24 L63.80,275.34 L64.15,271.64 L64.50,267.38 L64.85,263.04 L65.20,259.24 L65.55,256.59 L65.90,255.52 L66.25,256.15 L66.60,258.23 L66.95,261.29 L67.30,264.76 L67.65,268.16 L68.00,271.19 L68.35,273.72 L68.70,275.79 L69.05,277.48 L69.40,278.87 L69.75,280.01 L70.10,280.94 L70.45,281.68 L70.80,282.23 L71.15,282.63 L71.50,282.90 L71.85,283.08 L72.45,283.30 Z" fill="#2bad78" fill-opacity="0.22"/>
<path d="M61.10,283.30 L61.70,283.12 L62.05,282.90 L62.40,282.46 L62.75,281.65 L63.10,280.31 L63.45,278.24 L63.80,275.34 L64.15,271.64 L64.50,267.38 L64.85,263.04 L65.20,259.24 L65.55,256.59 L65.90,255.52 L66.25,256.15 L66.60,258.23 L66.95,261.29 L67.30,264.76 L67.65,268.16 L68.00,271.19 L68.35,273.72 L68.70,275.79 L69.05,277.48 L69.40,278.87 L69.75,280.01 L70.10,280.94 L70.45,281.68 L70.80,282.23 L71.15,282.63 L71.50,282.90 L71.85,283.08 L72.45,283.30" fill="none" stroke="#2bad78" stroke-width="1.45" stroke-dasharray="2.6,1.6"/>
<path d="M122.00,283.30 L122.60,283.12 L122.95,282.99 L123.30,282.79 L123.65,282.49 L124.00,282.04 L124.35,281.42 L124.70,280.56 L125.05,279.44 L125.40,278.02 L125.75,276.30 L126.10,274.29 L126.45,272.07 L126.80,269.71 L127.15,267.36 L127.50,265.17 L127.85,263.29 L128.20,261.89 L128.55,261.07 L128.90,260.93 L129.25,261.46 L129.60,262.62 L129.95,264.31 L130.30,266.39 L130.65,268.70 L131.00,271.07 L131.35,273.36 L131.70,275.47 L132.05,277.32 L132.40,278.87 L132.75,280.11 L133.10,281.08 L133.45,281.80 L133.80,282.32 L134.15,282.67 L134.50,282.91 L134.85,283.07 L135.45,283.30 Z" fill="#3a6ec2" fill-opacity="0.28"/>
<path d="M122.00,283.30 L122.60,283.12 L122.95,282.99 L123.30,282.79 L123.65,282.49 L124.00,282.04 L124.35,281.42 L124.70,280.56 L125.05,279.44 L125.40,278.02 L125.75,276.30 L126.10,274.29 L126.45,272.07 L126.80,269.71 L127.15,267.36 L127.50,265.17 L127.85,263.29 L128.20,261.89 L128.55,261.07 L128.90,260.93 L129.25,261.46 L129.60,262.62 L129.95,264.31 L130.30,266.39 L130.65,268.70 L131.00,271.07 L131.35,273.36 L131.70,275.47 L132.05,277.32 L132.40,278.87 L132.75,280.11 L133.10,281.08 L133.45,281.80 L133.80,282.32 L134.15,282.67 L134.50,282.91 L134.85,283.07 L135.45,283.30" fill="none" stroke="#3a6ec2" stroke-width="1.45"/>
<path d="M125.30,283.30 L125.90,283.10 L126.25,282.97 L126.60,282.76 L126.95,282.43 L127.30,281.96 L127.65,281.29 L128.00,280.38 L128.35,279.18 L128.70,277.67 L129.05,275.83 L129.40,273.69 L129.75,271.32 L130.10,268.80 L130.45,266.29 L130.80,263.95 L131.15,261.95 L131.50,260.45 L131.85,259.59 L132.20,259.43 L132.55,260.00 L132.90,261.24 L133.25,263.04 L133.60,265.26 L133.95,267.72 L134.30,270.25 L134.65,272.70 L135.00,274.95 L135.35,276.92 L135.70,278.57 L136.05,279.90 L136.40,280.93 L136.75,281.70 L137.10,282.25 L137.45,282.63 L137.80,282.89 L138.15,283.05 L138.75,283.30 Z" fill="#3a6ec2" fill-opacity="0.22"/>
<path d="M125.30,283.30 L125.90,283.10 L126.25,282.97 L126.60,282.76 L126.95,282.43 L127.30,281.96 L127.65,281.29 L128.00,280.38 L128.35,279.18 L128.70,277.67 L129.05,275.83 L129.40,273.69 L129.75,271.32 L130.10,268.80 L130.45,266.29 L130.80,263.95 L131.15,261.95 L131.50,260.45 L131.85,259.59 L132.20,259.43 L132.55,260.00 L132.90,261.24 L133.25,263.04 L133.60,265.26 L133.95,267.72 L134.30,270.25 L134.65,272.70 L135.00,274.95 L135.35,276.92 L135.70,278.57 L136.05,279.90 L136.40,280.93 L136.75,281.70 L137.10,282.25 L137.45,282.63 L137.80,282.89 L138.15,283.05 L138.75,283.30" fill="none" stroke="#3a6ec2" stroke-width="1.45" stroke-dasharray="2.6,1.6"/>
<path d="M180.95,283.30 L181.55,283.09 L181.90,282.77 L182.25,282.05 L182.60,280.63 L182.95,278.09 L183.30,274.04 L183.65,268.30 L184.00,261.13 L184.35,253.44 L184.70,246.64 L185.05,242.28 L185.40,241.46 L185.75,244.40 L186.10,250.33 L186.45,257.83 L186.80,265.36 L187.15,271.78 L187.50,276.56 L187.85,279.71 L188.20,281.55 L188.55,282.53 L188.90,282.99 L189.50,283.30 Z" fill="#ee8a45" fill-opacity="0.28"/>
<path d="M180.95,283.30 L181.55,283.09 L181.90,282.77 L182.25,282.05 L182.60,280.63 L182.95,278.09 L183.30,274.04 L183.65,268.30 L184.00,261.13 L184.35,253.44 L184.70,246.64 L185.05,242.28 L185.40,241.46 L185.75,244.40 L186.10,250.33 L186.45,257.83 L186.80,265.36 L187.15,271.78 L187.50,276.56 L187.85,279.71 L188.20,281.55 L188.55,282.53 L188.90,282.99 L189.50,283.30" fill="none" stroke="#ee8a45" stroke-width="1.45"/>
<path d="M213.75,283.30 L214.35,283.12 L214.70,282.89 L215.05,282.42 L215.40,281.56 L215.75,280.07 L216.10,277.68 L216.45,274.18 L216.80,269.45 L217.15,263.64 L217.50,257.20 L217.85,250.90 L218.20,245.70 L218.55,242.51 L218.90,241.91 L219.25,244.04 L219.60,248.48 L219.95,254.43 L220.30,260.91 L220.65,267.07 L221.00,272.30 L221.35,276.33 L221.70,279.17 L222.05,281.01 L222.40,282.11 L222.75,282.73 L223.10,283.04 L223.70,283.30 Z" fill="#ee8a45" fill-opacity="0.22"/>
<path d="M213.75,283.30 L214.35,283.12 L214.70,282.89 L215.05,282.42 L215.40,281.56 L215.75,280.07 L216.10,277.68 L216.45,274.18 L216.80,269.45 L217.15,263.64 L217.50,257.20 L217.85,250.90 L218.20,245.70 L218.55,242.51 L218.90,241.91 L219.25,244.04 L219.60,248.48 L219.95,254.43 L220.30,260.91 L220.65,267.07 L221.00,272.30 L221.35,276.33 L221.70,279.17 L222.05,281.01 L222.40,282.11 L222.75,282.73 L223.10,283.04 L223.70,283.30" fill="none" stroke="#ee8a45" stroke-width="1.45" stroke-dasharray="2.6,1.6"/>
<path d="M247.30,283.30 L247.90,283.14 L248.25,283.08 L248.60,282.99 L248.95,282.89 L249.30,282.78 L249.65,282.65 L250.00,282.51 L250.35,282.37 L250.70,282.24 L251.05,282.13 L251.40,282.04 L251.75,281.98 L252.10,281.94 L252.45,281.91 L252.80,281.89 L253.15,281.83 L253.50,281.71 L253.85,281.46 L254.20,281.05 L254.55,280.40 L254.90,279.47 L255.25,278.20 L255.60,276.57 L255.95,274.61 L256.30,272.36 L256.65,269.92 L257.00,267.46 L257.35,265.14 L257.70,263.17 L258.05,261.71 L258.40,260.92 L258.75,260.87 L259.10,261.56 L259.45,262.94 L259.80,264.87 L260.15,267.16 L260.50,269.64 L260.85,272.11 L261.20,274.41 L261.55,276.44 L261.90,278.10 L262.25,279.39 L262.60,280.30 L262.95,280.88 L263.30,281.20 L263.65,281.35 L264.00,281.42 L264.35,281.48 L264.70,281.59 L265.05,281.77 L265.40,282.00 L265.75,282.27 L266.10,282.54 L266.45,282.78 L266.80,282.96 L267.15,283.10 L267.75,283.30 Z" fill="#2bad78" fill-opacity="0.28"/>
<path d="M247.30,283.30 L247.90,283.14 L248.25,283.08 L248.60,282.99 L248.95,282.89 L249.30,282.78 L249.65,282.65 L250.00,282.51 L250.35,282.37 L250.70,282.24 L251.05,282.13 L251.40,282.04 L251.75,281.98 L252.10,281.94 L252.45,281.91 L252.80,281.89 L253.15,281.83 L253.50,281.71 L253.85,281.46 L254.20,281.05 L254.55,280.40 L254.90,279.47 L255.25,278.20 L255.60,276.57 L255.95,274.61 L256.30,272.36 L256.65,269.92 L257.00,267.46 L257.35,265.14 L257.70,263.17 L258.05,261.71 L258.40,260.92 L258.75,260.87 L259.10,261.56 L259.45,262.94 L259.80,264.87 L260.15,267.16 L260.50,269.64 L260.85,272.11 L261.20,274.41 L261.55,276.44 L261.90,278.10 L262.25,279.39 L262.60,280.30 L262.95,280.88 L263.30,281.20 L263.65,281.35 L264.00,281.42 L264.35,281.48 L264.70,281.59 L265.05,281.77 L265.40,282.00 L265.75,282.27 L266.10,282.54 L266.45,282.78 L266.80,282.96 L267.15,283.10 L267.75,283.30" fill="none" stroke="#2bad78" stroke-width="1.45"/>
<path d="M265.45,283.30 L266.05,283.11 L266.40,282.96 L266.75,282.71 L267.10,282.32 L267.45,281.76 L267.80,280.97 L268.15,279.92 L268.50,278.60 L268.85,276.99 L269.20,275.12 L269.55,273.02 L269.90,270.75 L270.25,268.37 L270.60,265.96 L270.95,263.63 L271.30,261.50 L271.65,259.74 L272.00,258.53 L272.35,258.02 L272.70,258.34 L273.05,259.53 L273.40,261.52 L273.75,264.13 L274.10,267.13 L274.45,270.24 L274.80,273.21 L275.15,275.86 L275.50,278.05 L275.85,279.77 L276.20,281.04 L276.55,281.91 L276.90,282.49 L277.25,282.85 L277.60,283.06 L278.20,283.30 Z" fill="#2bad78" fill-opacity="0.22"/>
<path d="M265.45,283.30 L266.05,283.11 L266.40,282.96 L266.75,282.71 L267.10,282.32 L267.45,281.76 L267.80,280.97 L268.15,279.92 L268.50,278.60 L268.85,276.99 L269.20,275.12 L269.55,273.02 L269.90,270.75 L270.25,268.37 L270.60,265.96 L270.95,263.63 L271.30,261.50 L271.65,259.74 L272.00,258.53 L272.35,258.02 L272.70,258.34 L273.05,259.53 L273.40,261.52 L273.75,264.13 L274.10,267.13 L274.45,270.24 L274.80,273.21 L275.15,275.86 L275.50,278.05 L275.85,279.77 L276.20,281.04 L276.55,281.91 L276.90,282.49 L277.25,282.85 L277.60,283.06 L278.20,283.30" fill="none" stroke="#2bad78" stroke-width="1.45" stroke-dasharray="2.6,1.6"/>
<path d="M305.30,283.30 L305.90,283.09 L306.25,283.01 L306.60,282.90 L306.95,282.76 L307.30,282.58 L307.65,282.36 L308.00,282.09 L308.35,281.77 L308.70,281.38 L309.05,280.94 L309.40,280.44 L309.75,279.89 L310.10,279.30 L310.45,278.66 L310.80,278.02 L311.15,277.36 L311.50,276.73 L311.85,276.13 L312.20,275.58 L312.55,275.11 L312.90,274.71 L313.25,274.41 L313.60,274.20 L313.95,274.09 L314.30,274.05 L314.65,274.08 L315.00,274.16 L315.35,274.28 L315.70,274.41 L316.05,274.54 L316.40,274.65 L316.75,274.73 L317.10,274.77 L317.45,274.79 L317.80,274.77 L318.15,274.74 L318.50,274.70 L318.85,274.66 L319.20,274.65 L319.55,274.68 L319.90,274.74 L320.25,274.86 L320.60,275.03 L320.95,275.25 L321.30,275.52 L321.65,275.81 L322.00,276.14 L322.35,276.47 L322.70,276.80 L323.05,277.13 L323.40,277.43 L323.75,277.72 L324.10,277.98 L324.45,278.22 L324.80,278.45 L325.15,278.66 L325.50,278.88 L325.85,279.10 L326.20,279.32 L326.55,279.55 L326.90,279.79 L327.25,280.02 L327.60,280.26 L327.95,280.48 L328.30,280.68 L328.65,280.87 L329.00,281.03 L329.35,281.16 L329.70,281.28 L330.05,281.39 L330.40,281.50 L330.75,281.60 L331.10,281.72 L331.45,281.85 L331.80,281.99 L332.15,282.14 L332.50,282.29 L332.85,282.45 L333.20,282.60 L333.55,282.74 L333.90,282.86 L334.25,282.97 L334.60,283.05 L334.95,283.12 L335.55,283.30 Z" fill="#3a6ec2" fill-opacity="0.28"/>
<path d="M305.30,283.30 L305.90,283.09 L306.25,283.01 L306.60,282.90 L306.95,282.76 L307.30,282.58 L307.65,282.36 L308.00,282.09 L308.35,281.77 L308.70,281.38 L309.05,280.94 L309.40,280.44 L309.75,279.89 L310.10,279.30 L310.45,278.66 L310.80,278.02 L311.15,277.36 L311.50,276.73 L311.85,276.13 L312.20,275.58 L312.55,275.11 L312.90,274.71 L313.25,274.41 L313.60,274.20 L313.95,274.09 L314.30,274.05 L314.65,274.08 L315.00,274.16 L315.35,274.28 L315.70,274.41 L316.05,274.54 L316.40,274.65 L316.75,274.73 L317.10,274.77 L317.45,274.79 L317.80,274.77 L318.15,274.74 L318.50,274.70 L318.85,274.66 L319.20,274.65 L319.55,274.68 L319.90,274.74 L320.25,274.86 L320.60,275.03 L320.95,275.25 L321.30,275.52 L321.65,275.81 L322.00,276.14 L322.35,276.47 L322.70,276.80 L323.05,277.13 L323.40,277.43 L323.75,277.72 L324.10,277.98 L324.45,278.22 L324.80,278.45 L325.15,278.66 L325.50,278.88 L325.85,279.10 L326.20,279.32 L326.55,279.55 L326.90,279.79 L327.25,280.02 L327.60,280.26 L327.95,280.48 L328.30,280.68 L328.65,280.87 L329.00,281.03 L329.35,281.16 L329.70,281.28 L330.05,281.39 L330.40,281.50 L330.75,281.60 L331.10,281.72 L331.45,281.85 L331.80,281.99 L332.15,282.14 L332.50,282.29 L332.85,282.45 L333.20,282.60 L333.55,282.74 L333.90,282.86 L334.25,282.97 L334.60,283.05 L334.95,283.12 L335.55,283.30" fill="none" stroke="#3a6ec2" stroke-width="1.45"/>
<path d="M321.95,283.30 L322.55,283.09 L322.90,282.99 L323.25,282.87 L323.60,282.71 L323.95,282.51 L324.30,282.28 L324.65,282.02 L325.00,281.73 L325.35,281.43 L325.70,281.10 L326.05,280.76 L326.40,280.40 L326.75,279.98 L327.10,279.49 L327.45,278.88 L327.80,278.10 L328.15,277.13 L328.50,275.95 L328.85,274.57 L329.20,273.05 L329.55,271.49 L329.90,270.00 L330.25,268.74 L330.60,267.84 L330.95,267.39 L331.30,267.46 L331.65,268.01 L332.00,268.97 L332.35,270.21 L332.70,271.58 L333.05,272.94 L333.40,274.17 L333.75,275.22 L334.10,276.09 L334.45,276.81 L334.80,277.46 L335.15,278.09 L335.50,278.73 L335.85,279.42 L336.20,280.12 L336.55,280.80 L336.90,281.42 L337.25,281.96 L337.60,282.39 L337.95,282.71 L338.30,282.94 L338.65,283.09 L339.25,283.30 Z" fill="#3a6ec2" fill-opacity="0.22"/>
<path d="M321.95,283.30 L322.55,283.09 L322.90,282.99 L323.25,282.87 L323.60,282.71 L323.95,282.51 L324.30,282.28 L324.65,282.02 L325.00,281.73 L325.35,281.43 L325.70,281.10 L326.05,280.76 L326.40,280.40 L326.75,279.98 L327.10,279.49 L327.45,278.88 L327.80,278.10 L328.15,277.13 L328.50,275.95 L328.85,274.57 L329.20,273.05 L329.55,271.49 L329.90,270.00 L330.25,268.74 L330.60,267.84 L330.95,267.39 L331.30,267.46 L331.65,268.01 L332.00,268.97 L332.35,270.21 L332.70,271.58 L333.05,272.94 L333.40,274.17 L333.75,275.22 L334.10,276.09 L334.45,276.81 L334.80,277.46 L335.15,278.09 L335.50,278.73 L335.85,279.42 L336.20,280.12 L336.55,280.80 L336.90,281.42 L337.25,281.96 L337.60,282.39 L337.95,282.71 L338.30,282.94 L338.65,283.09 L339.25,283.30" fill="none" stroke="#3a6ec2" stroke-width="1.45" stroke-dasharray="2.6,1.6"/>
<path d="M388.20,283.30 L388.80,283.11 L389.15,282.83 L389.50,282.22 L389.85,281.05 L390.20,279.09 L390.55,276.15 L390.90,272.33 L391.25,268.02 L391.60,263.86 L391.95,260.32 L392.30,257.33 L392.65,254.22 L393.00,250.48 L393.35,246.88 L393.70,245.54 L394.05,248.47 L394.40,255.65 L394.75,264.74 L395.10,272.88 L395.45,278.43 L395.80,281.41 L396.15,282.69 L396.50,283.14 L397.10,283.30 Z" fill="#ee8a45" fill-opacity="0.28"/>
<path d="M388.20,283.30 L388.80,283.11 L389.15,282.83 L389.50,282.22 L389.85,281.05 L390.20,279.09 L390.55,276.15 L390.90,272.33 L391.25,268.02 L391.60,263.86 L391.95,260.32 L392.30,257.33 L392.65,254.22 L393.00,250.48 L393.35,246.88 L393.70,245.54 L394.05,248.47 L394.40,255.65 L394.75,264.74 L395.10,272.88 L395.45,278.43 L395.80,281.41 L396.15,282.69 L396.50,283.14 L397.10,283.30" fill="none" stroke="#ee8a45" stroke-width="1.45"/>
<path d="M396.05,283.30 L396.65,283.10 L397.00,282.87 L397.35,282.44 L397.70,281.68 L398.05,280.41 L398.40,278.47 L398.75,275.72 L399.10,272.13 L399.45,267.82 L399.80,263.16 L400.15,258.68 L400.50,255.02 L400.85,252.79 L401.20,252.38 L401.55,253.86 L401.90,256.97 L402.25,261.18 L402.60,265.84 L402.95,270.35 L403.30,274.28 L403.65,277.40 L404.00,279.67 L404.35,281.21 L404.70,282.16 L405.05,282.72 L405.40,283.02 L406.00,283.30 Z" fill="#ee8a45" fill-opacity="0.22"/>
<path d="M396.05,283.30 L396.65,283.10 L397.00,282.87 L397.35,282.44 L397.70,281.68 L398.05,280.41 L398.40,278.47 L398.75,275.72 L399.10,272.13 L399.45,267.82 L399.80,263.16 L400.15,258.68 L400.50,255.02 L400.85,252.79 L401.20,252.38 L401.55,253.86 L401.90,256.97 L402.25,261.18 L402.60,265.84 L402.95,270.35 L403.30,274.28 L403.65,277.40 L404.00,279.67 L404.35,281.21 L404.70,282.16 L405.05,282.72 L405.40,283.02 L406.00,283.30" fill="none" stroke="#ee8a45" stroke-width="1.45" stroke-dasharray="2.6,1.6"/>
<rect x="37.5" y="233.3" width="52.3" height="50.0" fill="none" stroke="#4c4c4c" stroke-width="1.05"/>
<line x1="41.0" y1="283.3" x2="41.0" y2="286.1" stroke="#3c3c3c" stroke-width="0.8"/>
<line x1="60.5" y1="283.3" x2="60.5" y2="286.1" stroke="#3c3c3c" stroke-width="0.8"/>
<line x1="80.0" y1="283.3" x2="80.0" y2="286.1" stroke="#3c3c3c" stroke-width="0.8"/>
<line x1="34.7" y1="236.2" x2="37.5" y2="236.2" stroke="#3c3c3c" stroke-width="0.8"/>
<line x1="34.7" y1="259.8" x2="37.5" y2="259.8" stroke="#3c3c3c" stroke-width="0.8"/>
<line x1="34.7" y1="283.3" x2="37.5" y2="283.3" stroke="#3c3c3c" stroke-width="0.8"/>
<rect x="104.4" y="233.3" width="52.3" height="50.0" fill="none" stroke="#4c4c4c" stroke-width="1.05"/>
<line x1="107.9" y1="283.3" x2="107.9" y2="286.1" stroke="#3c3c3c" stroke-width="0.8"/>
<line x1="127.4" y1="283.3" x2="127.4" y2="286.1" stroke="#3c3c3c" stroke-width="0.8"/>
<line x1="146.9" y1="283.3" x2="146.9" y2="286.1" stroke="#3c3c3c" stroke-width="0.8"/>
<line x1="101.60000000000001" y1="248.5" x2="104.4" y2="248.5" stroke="#3c3c3c" stroke-width="0.8"/>
<line x1="101.60000000000001" y1="265.5" x2="104.4" y2="265.5" stroke="#3c3c3c" stroke-width="0.8"/>
<line x1="101.60000000000001" y1="283.3" x2="104.4" y2="283.3" stroke="#3c3c3c" stroke-width="0.8"/>
<rect x="171.4" y="233.3" width="52.3" height="50.0" fill="none" stroke="#4c4c4c" stroke-width="1.05"/>
<line x1="174.9" y1="283.3" x2="174.9" y2="286.1" stroke="#3c3c3c" stroke-width="0.8"/>
<line x1="194.4" y1="283.3" x2="194.4" y2="286.1" stroke="#3c3c3c" stroke-width="0.8"/>
<line x1="213.9" y1="283.3" x2="213.9" y2="286.1" stroke="#3c3c3c" stroke-width="0.8"/>
<line x1="168.6" y1="248.5" x2="171.4" y2="248.5" stroke="#3c3c3c" stroke-width="0.8"/>
<line x1="168.6" y1="265.5" x2="171.4" y2="265.5" stroke="#3c3c3c" stroke-width="0.8"/>
<line x1="168.6" y1="283.3" x2="171.4" y2="283.3" stroke="#3c3c3c" stroke-width="0.8"/>
<rect x="238.3" y="233.3" width="52.3" height="50.0" fill="none" stroke="#4c4c4c" stroke-width="1.05"/>
<line x1="241.8" y1="283.3" x2="241.8" y2="286.1" stroke="#3c3c3c" stroke-width="0.8"/>
<line x1="261.3" y1="283.3" x2="261.3" y2="286.1" stroke="#3c3c3c" stroke-width="0.8"/>
<line x1="280.8" y1="283.3" x2="280.8" y2="286.1" stroke="#3c3c3c" stroke-width="0.8"/>
<line x1="235.5" y1="248.5" x2="238.3" y2="248.5" stroke="#3c3c3c" stroke-width="0.8"/>
<line x1="235.5" y1="265.5" x2="238.3" y2="265.5" stroke="#3c3c3c" stroke-width="0.8"/>
<line x1="235.5" y1="283.3" x2="238.3" y2="283.3" stroke="#3c3c3c" stroke-width="0.8"/>
<rect x="305.3" y="233.3" width="52.3" height="50.0" fill="none" stroke="#4c4c4c" stroke-width="1.05"/>
<line x1="308.8" y1="283.3" x2="308.8" y2="286.1" stroke="#3c3c3c" stroke-width="0.8"/>
<line x1="328.3" y1="283.3" x2="328.3" y2="286.1" stroke="#3c3c3c" stroke-width="0.8"/>
<line x1="347.8" y1="283.3" x2="347.8" y2="286.1" stroke="#3c3c3c" stroke-width="0.8"/>
<line x1="302.5" y1="248.5" x2="305.3" y2="248.5" stroke="#3c3c3c" stroke-width="0.8"/>
<line x1="302.5" y1="265.5" x2="305.3" y2="265.5" stroke="#3c3c3c" stroke-width="0.8"/>
<line x1="302.5" y1="283.3" x2="305.3" y2="283.3" stroke="#3c3c3c" stroke-width="0.8"/>
<rect x="372.3" y="233.3" width="52.3" height="50.0" fill="none" stroke="#4c4c4c" stroke-width="1.05"/>
<line x1="375.8" y1="283.3" x2="375.8" y2="286.1" stroke="#3c3c3c" stroke-width="0.8"/>
<line x1="395.3" y1="283.3" x2="395.3" y2="286.1" stroke="#3c3c3c" stroke-width="0.8"/>
<line x1="414.8" y1="283.3" x2="414.8" y2="286.1" stroke="#3c3c3c" stroke-width="0.8"/>
<line x1="369.5" y1="248.5" x2="372.3" y2="248.5" stroke="#3c3c3c" stroke-width="0.8"/>
<line x1="369.5" y1="265.5" x2="372.3" y2="265.5" stroke="#3c3c3c" stroke-width="0.8"/>
<line x1="369.5" y1="283.3" x2="372.3" y2="283.3" stroke="#3c3c3c" stroke-width="0.8"/>
<text x="33.2" y="240.9" font-family='"Liberation Sans", sans-serif' font-size="12" text-anchor="end">16</text>
<text x="33.2" y="264.7" font-family='"Liberation Sans", sans-serif' font-size="12" text-anchor="end">8</text>
<text x="33.2" y="287.8" font-family='"Liberation Sans", sans-serif' font-size="12" text-anchor="end">0</text>
<text x="41.2" y="295.7" font-family='"Liberation Sans", sans-serif' font-size="12" text-anchor="middle">-0.5</text>
<text x="60.5" y="295.7" font-family='"Liberation Sans", sans-serif' font-size="12" text-anchor="middle">0</text>
<text x="80" y="295.7" font-family='"Liberation Sans", sans-serif' font-size="12" text-anchor="middle">0.5</text>
<text transform="translate(17.4,258.3) rotate(-90)" font-family='"Liberation Sans", sans-serif' font-size="12" text-anchor="middle">Counts</text>
<path d="M55.8,302.3 L53.9,307.2 L55.8,312.1 M70.3,302.3 L72.3,307.2 L70.3,312.1" fill="none" stroke="#111" stroke-width="1.0"/>
<text x="57.1" y="311.1" font-family='"Liberation Serif", serif' font-size="14.5" font-style="italic">σ</text>
<path d="M63.3,302.0 L64.7,300.1 L66.1,302.0" fill="none" stroke="#111" stroke-width="0.8"/>
<text x="64.5" y="312.6" font-family='"Liberation Serif", serif' font-size="9.8" font-style="italic">z</text>
<text x="101" y="312.5" font-family='"Liberation Sans", sans-serif' font-size="10.9" textLength="326.6" lengthAdjust="spacingAndGlyphs">The solid line and dotted line represent two classes of data samples</text>
<rect x="19.2" y="327.9" width="24.1" height="58.6" fill="#ddd8c2"/>
<g transform="translate(35.9,378.9) rotate(-90)"><text x="0" y="0" font-family='"Liberation Sans", sans-serif' font-size="12" textLength="27.4" lengthAdjust="spacingAndGlyphs">FI for</text>
<path d="M33.20,-8.72 C33.44,-10.52 34.18,-11.60 36.25,-11.48 C39.30,-11.36 42.35,-11.36 45.40,-12.20 M40.76,-11.24 C39.91,-7.40 39.30,-3.80 38.08,-1.64 C37.35,-0.44 36.13,-0.08 35.15,-0.80 " fill="none" stroke="#111" stroke-width="1.20" stroke-linecap="round"/>
<text x="40.6" y="0.4" font-family='"Liberation Serif", serif' font-size="10">1</text>
</g>
<text transform="translate(60.00000000000001,354.2) rotate(-90)" font-family='"Liberation Sans", sans-serif' font-size="12" text-anchor="middle">Counts</text>
<rect x="77.30000000000001" y="340.8" width="19.2" height="44.0" fill="#c5d99b"/>
<rect x="179.10000000000002" y="373.6" width="19.2" height="11.199999999999989" fill="#db9896"/>
<text x="87.9" y="338.2" font-family='"Liberation Serif", serif' font-size="13.8" text-anchor="middle">205</text>
<text x="186.5" y="369.9" font-family='"Liberation Sans", sans-serif' font-size="14" text-anchor="middle">11</text>
<line x1="139.2" y1="330" x2="139.2" y2="384" stroke="#222" stroke-width="1" stroke-dasharray="3,2.2"/>
<line x1="65.4" y1="384.8" x2="65.4" y2="322" stroke="#2a2a2a" stroke-width="1.3"/>
<line x1="64.80000000000001" y1="384.9" x2="211.4" y2="384.9" stroke="#4a4a4a" stroke-width="1.5"/>
<path d="M61.300000000000004,327.6 L65.4,319.8 L69.5,327.6 L65.4,325.6 Z" fill="#222"/>
<path d="M207.0,381.2 L214.9,384.9 L207.0,388.6 L209.0,384.9 Z" fill="#222"/>
<path d="M75.10000000000001,392.1 L66.4,396.3 L75.10000000000001,400.5 M171.3,392.1 L180.0,396.3 L171.3,400.5" fill="none" stroke="#111" stroke-width="0.95"/>
<text x="79.5" y="400.5" font-family='"Liberation Serif", serif' font-size="14" textLength="23.6" lengthAdjust="spacingAndGlyphs">0.01</text>
<text x="184.4" y="400.5" font-family='"Liberation Serif", serif' font-size="14" textLength="23.6" lengthAdjust="spacingAndGlyphs">0.01</text>
<rect x="235.2" y="327.9" width="24.1" height="58.6" fill="#ddd8c2"/>
<g transform="translate(251.89999999999998,378.9) rotate(-90)"><text x="0" y="0" font-family='"Liberation Sans", sans-serif' font-size="12" textLength="27.4" lengthAdjust="spacingAndGlyphs">FI for</text>
<path d="M33.20,-8.72 C33.44,-10.52 34.18,-11.60 36.25,-11.48 C39.30,-11.36 42.35,-11.36 45.40,-12.20 M40.76,-11.24 C39.91,-7.40 39.30,-3.80 38.08,-1.64 C37.35,-0.44 36.13,-0.08 35.15,-0.80 " fill="none" stroke="#111" stroke-width="1.20" stroke-linecap="round"/>
<text x="40.6" y="0.4" font-family='"Liberation Serif", serif' font-size="10">2</text>
</g>
<text transform="translate(273.90000000000003,354.2) rotate(-90)" font-family='"Liberation Sans", sans-serif' font-size="12" text-anchor="middle">Counts</text>
<rect x="291.2" y="339.2" width="19.2" height="45.60000000000002" fill="#c5d99b"/>
<rect x="393.0" y="376.5" width="19.2" height="8.300000000000011" fill="#db9896"/>
<text x="301.8" y="336.4" font-family='"Liberation Serif", serif' font-size="13.8" text-anchor="middle">207</text>
<text x="402.5" y="371.2" font-family='"Liberation Serif", serif' font-size="14.5" text-anchor="middle">9</text>
<line x1="353.1" y1="330" x2="353.1" y2="384" stroke="#222" stroke-width="1" stroke-dasharray="3,2.2"/>
<line x1="279.3" y1="384.8" x2="279.3" y2="322" stroke="#2a2a2a" stroke-width="1.3"/>
<line x1="278.7" y1="384.9" x2="425.3" y2="384.9" stroke="#4a4a4a" stroke-width="1.5"/>
<path d="M275.2,327.6 L279.3,319.8 L283.40000000000003,327.6 L279.3,325.6 Z" fill="#222"/>
<path d="M420.9,381.2 L428.8,384.9 L420.9,388.6 L422.9,384.9 Z" fill="#222"/>
<path d="M289.0,392.1 L280.3,396.3 L289.0,400.5 M385.20000000000005,392.1 L393.9,396.3 L385.20000000000005,400.5" fill="none" stroke="#111" stroke-width="0.95"/>
<text x="293.40000000000003" y="400.5" font-family='"Liberation Serif", serif' font-size="14" textLength="23.6" lengthAdjust="spacingAndGlyphs">0.01</text>
<text x="398.3" y="400.5" font-family='"Liberation Serif", serif' font-size="14" textLength="23.6" lengthAdjust="spacingAndGlyphs">0.01</text>
<line x1="523.5" y1="26.6" x2="537.8" y2="26.6" stroke="#800080" stroke-width="1.3" stroke-dasharray="1.2,1.6"/>
<circle cx="530.7" cy="26.6" r="1.8" fill="#800080"/>
<text x="546.1" y="30.6" font-family='"Liberation Sans", sans-serif' font-size="11.3" xml:space="preserve">W/O EWC, FI &lt; 0.01</text>
<line x1="523.5" y1="39.3" x2="537.8" y2="39.3" stroke="#800080" stroke-width="1.3"/>
<circle cx="530.7" cy="39.3" r="1.8" fill="#800080"/>
<text x="546.1" y="43.3" font-family='"Liberation Sans", sans-serif' font-size="11.3" xml:space="preserve">EWC, FI &lt; 0.01</text>
<line x1="523.5" y1="52.3" x2="537.8" y2="52.3" stroke="#008000" stroke-width="1.3" stroke-dasharray="1.2,1.6"/>
<path d="M528.20,49.80 L533.20,54.80 M528.20,54.80 L533.20,49.80" stroke="#008000" stroke-width="1.3" fill="none"/>
<text x="546.1" y="56.3" font-family='"Liberation Sans", sans-serif' font-size="11.3" xml:space="preserve">W/O EWC, &#160;FI &gt; 0.01</text>
<line x1="523.5" y1="65" x2="537.8" y2="65" stroke="#008000" stroke-width="1.3"/>
<path d="M528.20,62.50 L533.20,67.50 M528.20,67.50 L533.20,62.50" stroke="#008000" stroke-width="1.3" fill="none"/>
<text x="546.1" y="69" font-family='"Liberation Sans", sans-serif' font-size="11.3" xml:space="preserve">EWC, FI &gt; 0.01</text>
<rect x="492.3" y="75.5" width="184.59999999999997" height="102.9" fill="#fff"/>
<polyline points="500.5,173.1 506.5,157.8 512.5,151.3 518.5,148.7 524.5,146.6 530.5,141.3 536.5,138.7 542.5,131.6 548.5,127.2 554.5,121.7 560.5,121.1 566.5,115.8 572.5,115.2 578.5,107.2 584.5,109.9 590.5,103.7 596.5,105.8 602.5,99.9 608.5,99.0 614.5,98.7 620.5,95.8 626.5,89.3 632.5,86.4 638.5,86.4 644.5,84.9 650.5,86.7 656.5,80.8 662.5,82.8 668.5,79.9" fill="none" stroke="#008000" stroke-width="1.3" stroke-dasharray="1.3,1.5"/>
<path d="M497.90,170.50 L503.10,175.70 M497.90,175.70 L503.10,170.50" stroke="#008000" stroke-width="1.3" fill="none"/>
<path d="M503.90,155.21 L509.10,160.41 M503.90,160.41 L509.10,155.21" stroke="#008000" stroke-width="1.3" fill="none"/>
<path d="M509.90,148.74 L515.10,153.94 M509.90,153.94 L515.10,148.74" stroke="#008000" stroke-width="1.3" fill="none"/>
<path d="M515.90,146.10 L521.10,151.30 M515.90,151.30 L521.10,146.10" stroke="#008000" stroke-width="1.3" fill="none"/>
<path d="M521.90,144.04 L527.10,149.24 M521.90,149.24 L527.10,144.04" stroke="#008000" stroke-width="1.3" fill="none"/>
<path d="M527.90,138.75 L533.10,143.95 M527.90,143.95 L533.10,138.75" stroke="#008000" stroke-width="1.3" fill="none"/>
<path d="M533.90,136.10 L539.10,141.30 M533.90,141.30 L539.10,136.10" stroke="#008000" stroke-width="1.3" fill="none"/>
<path d="M539.90,129.05 L545.10,134.25 M539.90,134.25 L545.10,129.05" stroke="#008000" stroke-width="1.3" fill="none"/>
<path d="M545.90,124.64 L551.10,129.84 M545.90,129.84 L551.10,124.64" stroke="#008000" stroke-width="1.3" fill="none"/>
<path d="M551.90,119.05 L557.10,124.25 M551.90,124.25 L557.10,119.05" stroke="#008000" stroke-width="1.3" fill="none"/>
<path d="M557.90,118.46 L563.10,123.66 M557.90,123.66 L563.10,118.46" stroke="#008000" stroke-width="1.3" fill="none"/>
<path d="M563.90,113.17 L569.10,118.37 M563.90,118.37 L569.10,113.17" stroke="#008000" stroke-width="1.3" fill="none"/>
<path d="M569.90,112.58 L575.10,117.78 M569.90,117.78 L575.10,112.58" stroke="#008000" stroke-width="1.3" fill="none"/>
<path d="M575.90,104.64 L581.10,109.84 M575.90,109.84 L581.10,104.64" stroke="#008000" stroke-width="1.3" fill="none"/>
<path d="M581.90,107.29 L587.10,112.49 M581.90,112.49 L587.10,107.29" stroke="#008000" stroke-width="1.3" fill="none"/>
<path d="M587.90,101.12 L593.10,106.32 M587.90,106.32 L593.10,101.12" stroke="#008000" stroke-width="1.3" fill="none"/>
<path d="M593.90,103.17 L599.10,108.37 M593.90,108.37 L599.10,103.17" stroke="#008000" stroke-width="1.3" fill="none"/>
<path d="M599.90,97.29 L605.10,102.49 M599.90,102.49 L605.10,97.29" stroke="#008000" stroke-width="1.3" fill="none"/>
<path d="M605.90,96.41 L611.10,101.61 M605.90,101.61 L611.10,96.41" stroke="#008000" stroke-width="1.3" fill="none"/>
<path d="M611.90,96.12 L617.10,101.32 M611.90,101.32 L617.10,96.12" stroke="#008000" stroke-width="1.3" fill="none"/>
<path d="M617.90,93.18 L623.10,98.38 M617.90,98.38 L623.10,93.18" stroke="#008000" stroke-width="1.3" fill="none"/>
<path d="M623.90,86.71 L629.10,91.91 M623.90,91.91 L629.10,86.71" stroke="#008000" stroke-width="1.3" fill="none"/>
<path d="M629.90,83.77 L635.10,88.97 M629.90,88.97 L635.10,83.77" stroke="#008000" stroke-width="1.3" fill="none"/>
<path d="M635.90,83.77 L641.10,88.97 M635.90,88.97 L641.10,83.77" stroke="#008000" stroke-width="1.3" fill="none"/>
<path d="M641.90,82.30 L647.10,87.50 M641.90,87.50 L647.10,82.30" stroke="#008000" stroke-width="1.3" fill="none"/>
<path d="M647.90,84.06 L653.10,89.26 M647.90,89.26 L653.10,84.06" stroke="#008000" stroke-width="1.3" fill="none"/>
<path d="M653.90,78.18 L659.10,83.38 M653.90,83.38 L659.10,78.18" stroke="#008000" stroke-width="1.3" fill="none"/>
<path d="M659.90,80.24 L665.10,85.44 M659.90,85.44 L665.10,80.24" stroke="#008000" stroke-width="1.3" fill="none"/>
<path d="M665.90,77.30 L671.10,82.50 M665.90,82.50 L671.10,77.30" stroke="#008000" stroke-width="1.3" fill="none"/>
<polyline points="500.5,173.1 506.5,157.8 512.5,156.0 518.5,153.7 524.5,151.6 530.5,149.3 536.5,146.9 542.5,144.0 548.5,142.2 554.5,139.3 560.5,138.1 566.5,135.8 572.5,133.7 578.5,131.4 584.5,130.2 590.5,128.7 596.5,127.5 602.5,125.5 608.5,124.6 614.5,123.4 620.5,121.9 626.5,120.8 632.5,119.9 638.5,119.0 644.5,118.1 650.5,117.2 656.5,116.7 662.5,116.1 668.5,115.5" fill="none" stroke="#800080" stroke-width="1.3" stroke-dasharray="1.3,1.5"/>
<circle cx="500.5" cy="173.1" r="1.7" fill="#800080"/>
<circle cx="506.5" cy="157.8" r="1.7" fill="#800080"/>
<circle cx="512.5" cy="156.0" r="1.7" fill="#800080"/>
<circle cx="518.5" cy="153.7" r="1.7" fill="#800080"/>
<circle cx="524.5" cy="151.6" r="1.7" fill="#800080"/>
<circle cx="530.5" cy="149.3" r="1.7" fill="#800080"/>
<circle cx="536.5" cy="146.9" r="1.7" fill="#800080"/>
<circle cx="542.5" cy="144.0" r="1.7" fill="#800080"/>
<circle cx="548.5" cy="142.2" r="1.7" fill="#800080"/>
<circle cx="554.5" cy="139.3" r="1.7" fill="#800080"/>
<circle cx="560.5" cy="138.1" r="1.7" fill="#800080"/>
<circle cx="566.5" cy="135.8" r="1.7" fill="#800080"/>
<circle cx="572.5" cy="133.7" r="1.7" fill="#800080"/>
<circle cx="578.5" cy="131.4" r="1.7" fill="#800080"/>
<circle cx="584.5" cy="130.2" r="1.7" fill="#800080"/>
<circle cx="590.5" cy="128.7" r="1.7" fill="#800080"/>
<circle cx="596.5" cy="127.5" r="1.7" fill="#800080"/>
<circle cx="602.5" cy="125.5" r="1.7" fill="#800080"/>
<circle cx="608.5" cy="124.6" r="1.7" fill="#800080"/>
<circle cx="614.5" cy="123.4" r="1.7" fill="#800080"/>
<circle cx="620.5" cy="121.9" r="1.7" fill="#800080"/>
<circle cx="626.5" cy="120.8" r="1.7" fill="#800080"/>
<circle cx="632.5" cy="119.9" r="1.7" fill="#800080"/>
<circle cx="638.5" cy="119.0" r="1.7" fill="#800080"/>
<circle cx="644.5" cy="118.1" r="1.7" fill="#800080"/>
<circle cx="650.5" cy="117.2" r="1.7" fill="#800080"/>
<circle cx="656.5" cy="116.7" r="1.7" fill="#800080"/>
<circle cx="662.5" cy="116.1" r="1.7" fill="#800080"/>
<circle cx="668.5" cy="115.5" r="1.7" fill="#800080"/>
<polyline points="500.5,173.1 506.5,157.8 512.5,158.7 518.5,158.1 524.5,157.8 530.5,156.3 536.5,155.5 542.5,153.7 548.5,153.1 554.5,152.5 560.5,151.0 566.5,151.3 572.5,149.6 578.5,149.3 584.5,149.3 590.5,149.3 596.5,148.1 602.5,147.2 608.5,147.2 614.5,147.2 620.5,147.2 626.5,147.5 632.5,148.1 638.5,148.7 644.5,149.0 650.5,149.3 656.5,148.7 662.5,148.7 668.5,148.7" fill="none" stroke="#800080" stroke-width="1.3"/>
<circle cx="500.5" cy="173.1" r="1.7" fill="#800080"/>
<circle cx="506.5" cy="157.8" r="1.7" fill="#800080"/>
<circle cx="512.5" cy="158.7" r="1.7" fill="#800080"/>
<circle cx="518.5" cy="158.1" r="1.7" fill="#800080"/>
<circle cx="524.5" cy="157.8" r="1.7" fill="#800080"/>
<circle cx="530.5" cy="156.3" r="1.7" fill="#800080"/>
<circle cx="536.5" cy="155.5" r="1.7" fill="#800080"/>
<circle cx="542.5" cy="153.7" r="1.7" fill="#800080"/>
<circle cx="548.5" cy="153.1" r="1.7" fill="#800080"/>
<circle cx="554.5" cy="152.5" r="1.7" fill="#800080"/>
<circle cx="560.5" cy="151.0" r="1.7" fill="#800080"/>
<circle cx="566.5" cy="151.3" r="1.7" fill="#800080"/>
<circle cx="572.5" cy="149.6" r="1.7" fill="#800080"/>
<circle cx="578.5" cy="149.3" r="1.7" fill="#800080"/>
<circle cx="584.5" cy="149.3" r="1.7" fill="#800080"/>
<circle cx="590.5" cy="149.3" r="1.7" fill="#800080"/>
<circle cx="596.5" cy="148.1" r="1.7" fill="#800080"/>
<circle cx="602.5" cy="147.2" r="1.7" fill="#800080"/>
<circle cx="608.5" cy="147.2" r="1.7" fill="#800080"/>
<circle cx="614.5" cy="147.2" r="1.7" fill="#800080"/>
<circle cx="620.5" cy="147.2" r="1.7" fill="#800080"/>
<circle cx="626.5" cy="147.5" r="1.7" fill="#800080"/>
<circle cx="632.5" cy="148.1" r="1.7" fill="#800080"/>
<circle cx="638.5" cy="148.7" r="1.7" fill="#800080"/>
<circle cx="644.5" cy="149.0" r="1.7" fill="#800080"/>
<circle cx="650.5" cy="149.3" r="1.7" fill="#800080"/>
<circle cx="656.5" cy="148.7" r="1.7" fill="#800080"/>
<circle cx="662.5" cy="148.7" r="1.7" fill="#800080"/>
<circle cx="668.5" cy="148.7" r="1.7" fill="#800080"/>
<polyline points="500.5,173.1 506.5,157.8 512.5,165.8 518.5,163.4 524.5,167.5 530.5,166.9 536.5,169.6 542.5,164.0 548.5,168.1 554.5,167.2 560.5,163.4 566.5,166.6 572.5,165.2 578.5,165.8 584.5,164.3 590.5,167.2 596.5,167.8 602.5,164.3 608.5,165.8 614.5,166.6 620.5,161.9 626.5,164.3 632.5,168.7 638.5,168.7 644.5,169.6 650.5,168.7 656.5,167.2 662.5,167.2 668.5,164.9" fill="none" stroke="#008000" stroke-width="1.3"/>
<path d="M497.90,170.50 L503.10,175.70 M497.90,175.70 L503.10,170.50" stroke="#008000" stroke-width="1.3" fill="none"/>
<path d="M503.90,155.21 L509.10,160.41 M503.90,160.41 L509.10,155.21" stroke="#008000" stroke-width="1.3" fill="none"/>
<path d="M509.90,163.15 L515.10,168.35 M509.90,168.35 L515.10,163.15" stroke="#008000" stroke-width="1.3" fill="none"/>
<path d="M515.90,160.80 L521.10,166.00 M515.90,166.00 L521.10,160.80" stroke="#008000" stroke-width="1.3" fill="none"/>
<path d="M521.90,164.91 L527.10,170.11 M521.90,170.11 L527.10,164.91" stroke="#008000" stroke-width="1.3" fill="none"/>
<path d="M527.90,164.33 L533.10,169.53 M527.90,169.53 L533.10,164.33" stroke="#008000" stroke-width="1.3" fill="none"/>
<path d="M533.90,166.97 L539.10,172.17 M533.90,172.17 L539.10,166.97" stroke="#008000" stroke-width="1.3" fill="none"/>
<path d="M539.90,161.39 L545.10,166.59 M539.90,166.59 L545.10,161.39" stroke="#008000" stroke-width="1.3" fill="none"/>
<path d="M545.90,165.50 L551.10,170.70 M545.90,170.70 L551.10,165.50" stroke="#008000" stroke-width="1.3" fill="none"/>
<path d="M551.90,164.62 L557.10,169.82 M551.90,169.82 L557.10,164.62" stroke="#008000" stroke-width="1.3" fill="none"/>
<path d="M557.90,160.80 L563.10,166.00 M557.90,166.00 L563.10,160.80" stroke="#008000" stroke-width="1.3" fill="none"/>
<path d="M563.90,164.03 L569.10,169.23 M563.90,169.23 L569.10,164.03" stroke="#008000" stroke-width="1.3" fill="none"/>
<path d="M569.90,162.56 L575.10,167.76 M569.90,167.76 L575.10,162.56" stroke="#008000" stroke-width="1.3" fill="none"/>
<path d="M575.90,163.15 L581.10,168.35 M575.90,168.35 L581.10,163.15" stroke="#008000" stroke-width="1.3" fill="none"/>
<path d="M581.90,161.68 L587.10,166.88 M581.90,166.88 L587.10,161.68" stroke="#008000" stroke-width="1.3" fill="none"/>
<path d="M587.90,164.62 L593.10,169.82 M587.90,169.82 L593.10,164.62" stroke="#008000" stroke-width="1.3" fill="none"/>
<path d="M593.90,165.21 L599.10,170.41 M593.90,170.41 L599.10,165.21" stroke="#008000" stroke-width="1.3" fill="none"/>
<path d="M599.90,161.68 L605.10,166.88 M599.90,166.88 L605.10,161.68" stroke="#008000" stroke-width="1.3" fill="none"/>
<path d="M605.90,163.15 L611.10,168.35 M605.90,168.35 L611.10,163.15" stroke="#008000" stroke-width="1.3" fill="none"/>
<path d="M611.90,164.03 L617.10,169.23 M611.90,169.23 L617.10,164.03" stroke="#008000" stroke-width="1.3" fill="none"/>
<path d="M617.90,159.33 L623.10,164.53 M617.90,164.53 L623.10,159.33" stroke="#008000" stroke-width="1.3" fill="none"/>
<path d="M623.90,161.68 L629.10,166.88 M623.90,166.88 L629.10,161.68" stroke="#008000" stroke-width="1.3" fill="none"/>
<path d="M629.90,166.09 L635.10,171.29 M629.90,171.29 L635.10,166.09" stroke="#008000" stroke-width="1.3" fill="none"/>
<path d="M635.90,166.09 L641.10,171.29 M635.90,171.29 L641.10,166.09" stroke="#008000" stroke-width="1.3" fill="none"/>
<path d="M641.90,166.97 L647.10,172.17 M641.90,172.17 L647.10,166.97" stroke="#008000" stroke-width="1.3" fill="none"/>
<path d="M647.90,166.09 L653.10,171.29 M647.90,171.29 L653.10,166.09" stroke="#008000" stroke-width="1.3" fill="none"/>
<path d="M653.90,164.62 L659.10,169.82 M653.90,169.82 L659.10,164.62" stroke="#008000" stroke-width="1.3" fill="none"/>
<path d="M659.90,164.62 L665.10,169.82 M659.90,169.82 L665.10,164.62" stroke="#008000" stroke-width="1.3" fill="none"/>
<path d="M665.90,162.27 L671.10,167.47 M665.90,167.47 L671.10,162.27" stroke="#008000" stroke-width="1.3" fill="none"/>
<rect x="492.3" y="75.5" width="184.59999999999997" height="102.9" fill="none" stroke="#333" stroke-width="1.15"/>
<line x1="489.3" y1="173.1" x2="492.3" y2="173.1" stroke="#333" stroke-width="0.8"/>
<text x="485.8" y="176.9" font-family='"Liberation Sans", sans-serif' font-size="10.6" text-anchor="end">0.0</text>
<line x1="489.3" y1="143.7" x2="492.3" y2="143.7" stroke="#333" stroke-width="0.8"/>
<text x="485.8" y="147.5" font-family='"Liberation Sans", sans-serif' font-size="10.6" text-anchor="end">0.1</text>
<line x1="489.3" y1="114.3" x2="492.3" y2="114.3" stroke="#333" stroke-width="0.8"/>
<text x="485.8" y="118.1" font-family='"Liberation Sans", sans-serif' font-size="10.6" text-anchor="end">0.2</text>
<line x1="489.3" y1="84.9" x2="492.3" y2="84.9" stroke="#333" stroke-width="0.8"/>
<text x="485.8" y="88.7" font-family='"Liberation Sans", sans-serif' font-size="10.6" text-anchor="end">0.3</text>
<line x1="500.5" y1="178.4" x2="500.5" y2="181.4" stroke="#333" stroke-width="0.8"/>
<text x="500.5" y="191.9" font-family='"Liberation Sans", sans-serif' font-size="10.6" text-anchor="middle">20</text>
<line x1="560.5" y1="178.4" x2="560.5" y2="181.4" stroke="#333" stroke-width="0.8"/>
<text x="560.5" y="191.9" font-family='"Liberation Sans", sans-serif' font-size="10.6" text-anchor="middle">30</text>
<line x1="620.5" y1="178.4" x2="620.5" y2="181.4" stroke="#333" stroke-width="0.8"/>
<text x="620.5" y="191.9" font-family='"Liberation Sans", sans-serif' font-size="10.6" text-anchor="middle">40</text>
<line x1="668.5" y1="178.4" x2="668.5" y2="181.4" stroke="#333" stroke-width="0.8"/>
<text x="668.5" y="191.9" font-family='"Liberation Sans", sans-serif' font-size="10.6" text-anchor="middle">48</text>
<text x="584.3" y="203.6" font-family='"Liberation Sans", sans-serif' font-size="11" text-anchor="middle">Epochs</text>
<text x="506.3" y="95.1" font-family='"Liberation Sans", sans-serif' font-size="11.8" textLength="45.6" lengthAdjust="spacingAndGlyphs">Learning</text>
<path d="M557.00,88.08 C557.26,86.38 558.04,85.36 560.25,85.48 C563.50,85.59 566.75,85.59 570.00,84.80 M565.06,85.70 C564.15,89.32 563.50,92.71 562.20,94.74 C561.42,95.87 560.12,96.21 559.08,95.53 " fill="none" stroke="#111" stroke-width="1.13" stroke-linecap="round"/>
<text x="565.2" y="97.6" font-family='"Liberation Serif", serif' font-size="10.5">2</text>
<text transform="translate(454.8,128) rotate(-90)" font-family='"Liberation Sans", sans-serif' font-size="11" text-anchor="middle">Average parameter</text>
<text transform="translate(465.7,128) rotate(-90)" font-family='"Liberation Sans", sans-serif' font-size="11" text-anchor="middle">changes</text>
<rect x="495.6" y="228.4" width="181.29999999999995" height="127.79999999999998" fill="#fff"/>
<polyline points="503.5,350.6 512.2,335.0 520.9,324.8 529.5,316.1 538.2,310.7 546.9,303.9 555.6,298.0 564.3,289.5 572.9,283.5 581.6,278.7 590.3,273.1 599.0,268.5 607.7,263.7 616.3,257.8 625.0,253.5 633.7,248.4 642.4,245.0 651.1,241.1 659.7,237.7 668.4,234.0" fill="none" stroke="#008000" stroke-width="1.3" stroke-dasharray="1.3,1.5"/>
<path d="M500.90,348.00 L506.10,353.20 M500.90,353.20 L506.10,348.00" stroke="#008000" stroke-width="1.3" fill="none"/>
<path d="M509.58,332.44 L514.78,337.64 M509.58,337.64 L514.78,332.44" stroke="#008000" stroke-width="1.3" fill="none"/>
<path d="M518.26,322.25 L523.46,327.45 M518.26,327.45 L523.46,322.25" stroke="#008000" stroke-width="1.3" fill="none"/>
<path d="M526.94,313.47 L532.14,318.67 M526.94,318.67 L532.14,313.47" stroke="#008000" stroke-width="1.3" fill="none"/>
<path d="M535.62,308.10 L540.82,313.30 M535.62,313.30 L540.82,308.10" stroke="#008000" stroke-width="1.3" fill="none"/>
<path d="M544.30,301.31 L549.50,306.51 M544.30,306.51 L549.50,301.31" stroke="#008000" stroke-width="1.3" fill="none"/>
<path d="M552.98,295.36 L558.18,300.56 M552.98,300.56 L558.18,295.36" stroke="#008000" stroke-width="1.3" fill="none"/>
<path d="M561.66,286.87 L566.86,292.07 M561.66,292.07 L566.86,286.87" stroke="#008000" stroke-width="1.3" fill="none"/>
<path d="M570.34,280.93 L575.54,286.13 M570.34,286.13 L575.54,280.93" stroke="#008000" stroke-width="1.3" fill="none"/>
<path d="M579.02,276.12 L584.22,281.32 M579.02,281.32 L584.22,276.12" stroke="#008000" stroke-width="1.3" fill="none"/>
<path d="M587.70,270.46 L592.90,275.66 M587.70,275.66 L592.90,270.46" stroke="#008000" stroke-width="1.3" fill="none"/>
<path d="M596.38,265.93 L601.58,271.13 M596.38,271.13 L601.58,265.93" stroke="#008000" stroke-width="1.3" fill="none"/>
<path d="M605.06,261.12 L610.26,266.32 M605.06,266.32 L610.26,261.12" stroke="#008000" stroke-width="1.3" fill="none"/>
<path d="M613.74,255.18 L618.94,260.38 M613.74,260.38 L618.94,255.18" stroke="#008000" stroke-width="1.3" fill="none"/>
<path d="M622.42,250.93 L627.62,256.13 M622.42,256.13 L627.62,250.93" stroke="#008000" stroke-width="1.3" fill="none"/>
<path d="M631.10,245.84 L636.30,251.04 M631.10,251.04 L636.30,245.84" stroke="#008000" stroke-width="1.3" fill="none"/>
<path d="M639.78,242.44 L644.98,247.64 M639.78,247.64 L644.98,242.44" stroke="#008000" stroke-width="1.3" fill="none"/>
<path d="M648.46,238.48 L653.66,243.68 M648.46,243.68 L653.66,238.48" stroke="#008000" stroke-width="1.3" fill="none"/>
<path d="M657.14,235.08 L662.34,240.28 M657.14,240.28 L662.34,235.08" stroke="#008000" stroke-width="1.3" fill="none"/>
<path d="M665.82,231.40 L671.02,236.60 M665.82,236.60 L671.02,231.40" stroke="#008000" stroke-width="1.3" fill="none"/>
<polyline points="503.5,350.6 512.2,335.0 520.9,332.8 529.5,327.7 538.2,324.8 546.9,322.3 555.6,318.9 564.3,315.8 572.9,313.2 581.6,310.7 590.3,307.6 599.0,305.0 607.7,302.2 616.3,299.4 625.0,298.0 633.7,296.3 642.4,294.3 651.1,293.2 659.7,292.0 668.4,290.3" fill="none" stroke="#800080" stroke-width="1.3" stroke-dasharray="1.3,1.5"/>
<circle cx="503.5" cy="350.6" r="1.7" fill="#800080"/>
<circle cx="512.2" cy="335.0" r="1.7" fill="#800080"/>
<circle cx="520.9" cy="332.8" r="1.7" fill="#800080"/>
<circle cx="529.5" cy="327.7" r="1.7" fill="#800080"/>
<circle cx="538.2" cy="324.8" r="1.7" fill="#800080"/>
<circle cx="546.9" cy="322.3" r="1.7" fill="#800080"/>
<circle cx="555.6" cy="318.9" r="1.7" fill="#800080"/>
<circle cx="564.3" cy="315.8" r="1.7" fill="#800080"/>
<circle cx="572.9" cy="313.2" r="1.7" fill="#800080"/>
<circle cx="581.6" cy="310.7" r="1.7" fill="#800080"/>
<circle cx="590.3" cy="307.6" r="1.7" fill="#800080"/>
<circle cx="599.0" cy="305.0" r="1.7" fill="#800080"/>
<circle cx="607.7" cy="302.2" r="1.7" fill="#800080"/>
<circle cx="616.3" cy="299.4" r="1.7" fill="#800080"/>
<circle cx="625.0" cy="298.0" r="1.7" fill="#800080"/>
<circle cx="633.7" cy="296.3" r="1.7" fill="#800080"/>
<circle cx="642.4" cy="294.3" r="1.7" fill="#800080"/>
<circle cx="651.1" cy="293.2" r="1.7" fill="#800080"/>
<circle cx="659.7" cy="292.0" r="1.7" fill="#800080"/>
<circle cx="668.4" cy="290.3" r="1.7" fill="#800080"/>
<polyline points="503.5,350.6 512.2,335.0 520.9,337.6 529.5,336.2 538.2,335.9 546.9,334.8 555.6,335.3 564.3,334.8 572.9,334.5 581.6,334.2 590.3,333.9 599.0,333.9 607.7,334.2 616.3,332.2 625.0,331.9 633.7,331.4 642.4,329.7 651.1,329.1 659.7,329.7 668.4,329.1" fill="none" stroke="#800080" stroke-width="1.3"/>
<circle cx="503.5" cy="350.6" r="1.7" fill="#800080"/>
<circle cx="512.2" cy="335.0" r="1.7" fill="#800080"/>
<circle cx="520.9" cy="337.6" r="1.7" fill="#800080"/>
<circle cx="529.5" cy="336.2" r="1.7" fill="#800080"/>
<circle cx="538.2" cy="335.9" r="1.7" fill="#800080"/>
<circle cx="546.9" cy="334.8" r="1.7" fill="#800080"/>
<circle cx="555.6" cy="335.3" r="1.7" fill="#800080"/>
<circle cx="564.3" cy="334.8" r="1.7" fill="#800080"/>
<circle cx="572.9" cy="334.5" r="1.7" fill="#800080"/>
<circle cx="581.6" cy="334.2" r="1.7" fill="#800080"/>
<circle cx="590.3" cy="333.9" r="1.7" fill="#800080"/>
<circle cx="599.0" cy="333.9" r="1.7" fill="#800080"/>
<circle cx="607.7" cy="334.2" r="1.7" fill="#800080"/>
<circle cx="616.3" cy="332.2" r="1.7" fill="#800080"/>
<circle cx="625.0" cy="331.9" r="1.7" fill="#800080"/>
<circle cx="633.7" cy="331.4" r="1.7" fill="#800080"/>
<circle cx="642.4" cy="329.7" r="1.7" fill="#800080"/>
<circle cx="651.1" cy="329.1" r="1.7" fill="#800080"/>
<circle cx="659.7" cy="329.7" r="1.7" fill="#800080"/>
<circle cx="668.4" cy="329.1" r="1.7" fill="#800080"/>
<polyline points="503.5,350.6 512.2,335.0 520.9,343.2 529.5,338.7 538.2,341.3 546.9,336.7 555.6,340.1 564.3,330.8 572.9,339.3 581.6,339.6 590.3,342.4 599.0,340.7 607.7,344.1 616.3,338.4 625.0,340.7 633.7,340.7 642.4,338.4 651.1,338.4 659.7,340.7 668.4,339.0" fill="none" stroke="#008000" stroke-width="1.3"/>
<path d="M500.90,348.00 L506.10,353.20 M500.90,353.20 L506.10,348.00" stroke="#008000" stroke-width="1.3" fill="none"/>
<path d="M509.58,332.44 L514.78,337.64 M509.58,337.64 L514.78,332.44" stroke="#008000" stroke-width="1.3" fill="none"/>
<path d="M518.26,340.64 L523.46,345.84 M518.26,345.84 L523.46,340.64" stroke="#008000" stroke-width="1.3" fill="none"/>
<path d="M526.94,336.11 L532.14,341.31 M526.94,341.31 L532.14,336.11" stroke="#008000" stroke-width="1.3" fill="none"/>
<path d="M535.62,338.66 L540.82,343.86 M535.62,343.86 L540.82,338.66" stroke="#008000" stroke-width="1.3" fill="none"/>
<path d="M544.30,334.13 L549.50,339.33 M544.30,339.33 L549.50,334.13" stroke="#008000" stroke-width="1.3" fill="none"/>
<path d="M552.98,337.53 L558.18,342.73 M552.98,342.73 L558.18,337.53" stroke="#008000" stroke-width="1.3" fill="none"/>
<path d="M561.66,328.19 L566.86,333.39 M561.66,333.39 L566.86,328.19" stroke="#008000" stroke-width="1.3" fill="none"/>
<path d="M570.34,336.68 L575.54,341.88 M570.34,341.88 L575.54,336.68" stroke="#008000" stroke-width="1.3" fill="none"/>
<path d="M579.02,336.96 L584.22,342.16 M579.02,342.16 L584.22,336.96" stroke="#008000" stroke-width="1.3" fill="none"/>
<path d="M587.70,339.79 L592.90,344.99 M587.70,344.99 L592.90,339.79" stroke="#008000" stroke-width="1.3" fill="none"/>
<path d="M596.38,338.10 L601.58,343.30 M596.38,343.30 L601.58,338.10" stroke="#008000" stroke-width="1.3" fill="none"/>
<path d="M605.06,341.49 L610.26,346.69 M605.06,346.69 L610.26,341.49" stroke="#008000" stroke-width="1.3" fill="none"/>
<path d="M613.74,335.83 L618.94,341.03 M613.74,341.03 L618.94,335.83" stroke="#008000" stroke-width="1.3" fill="none"/>
<path d="M622.42,338.10 L627.62,343.30 M622.42,343.30 L627.62,338.10" stroke="#008000" stroke-width="1.3" fill="none"/>
<path d="M631.10,338.10 L636.30,343.30 M631.10,343.30 L636.30,338.10" stroke="#008000" stroke-width="1.3" fill="none"/>
<path d="M639.78,335.83 L644.98,341.03 M639.78,341.03 L644.98,335.83" stroke="#008000" stroke-width="1.3" fill="none"/>
<path d="M648.46,335.83 L653.66,341.03 M648.46,341.03 L653.66,335.83" stroke="#008000" stroke-width="1.3" fill="none"/>
<path d="M657.14,338.10 L662.34,343.30 M657.14,343.30 L662.34,338.10" stroke="#008000" stroke-width="1.3" fill="none"/>
<path d="M665.82,336.40 L671.02,341.60 M665.82,341.60 L671.02,336.40" stroke="#008000" stroke-width="1.3" fill="none"/>
<rect x="495.6" y="228.4" width="181.29999999999995" height="127.79999999999998" fill="none" stroke="#333" stroke-width="1.15"/>
<line x1="492.6" y1="350.6" x2="495.6" y2="350.6" stroke="#333" stroke-width="0.8"/>
<text x="489.1" y="354.4" font-family='"Liberation Sans", sans-serif' font-size="11.1" text-anchor="end">0.0</text>
<line x1="492.6" y1="322.3" x2="495.6" y2="322.3" stroke="#333" stroke-width="0.8"/>
<text x="489.1" y="326.1" font-family='"Liberation Sans", sans-serif' font-size="11.1" text-anchor="end">0.1</text>
<line x1="492.6" y1="294.0" x2="495.6" y2="294.0" stroke="#333" stroke-width="0.8"/>
<text x="489.1" y="297.8" font-family='"Liberation Sans", sans-serif' font-size="11.1" text-anchor="end">0.2</text>
<line x1="492.6" y1="265.7" x2="495.6" y2="265.7" stroke="#333" stroke-width="0.8"/>
<text x="489.1" y="269.5" font-family='"Liberation Sans", sans-serif' font-size="11.1" text-anchor="end">0.3</text>
<line x1="492.6" y1="237.4" x2="495.6" y2="237.4" stroke="#333" stroke-width="0.8"/>
<text x="489.1" y="241.2" font-family='"Liberation Sans", sans-serif' font-size="11.1" text-anchor="end">0.4</text>
<line x1="503.5" y1="356.2" x2="503.5" y2="359.2" stroke="#333" stroke-width="0.8"/>
<text x="503.5" y="370.6" font-family='"Liberation Sans", sans-serif' font-size="11.1" text-anchor="middle">48</text>
<line x1="555.6" y1="356.2" x2="555.6" y2="359.2" stroke="#333" stroke-width="0.8"/>
<text x="555.6" y="370.6" font-family='"Liberation Sans", sans-serif' font-size="11.1" text-anchor="middle">54</text>
<line x1="607.7" y1="356.2" x2="607.7" y2="359.2" stroke="#333" stroke-width="0.8"/>
<text x="607.7" y="370.6" font-family='"Liberation Sans", sans-serif' font-size="11.1" text-anchor="middle">60</text>
<line x1="668.4" y1="356.2" x2="668.4" y2="359.2" stroke="#333" stroke-width="0.8"/>
<text x="668.4" y="370.6" font-family='"Liberation Sans", sans-serif' font-size="11.1" text-anchor="middle">67</text>
<text x="586" y="381.7" font-family='"Liberation Sans", sans-serif' font-size="11.7" text-anchor="middle">Epochs</text>
<text x="506.3" y="252.7" font-family='"Liberation Sans", sans-serif' font-size="11.8" textLength="45.6" lengthAdjust="spacingAndGlyphs">Learning</text>
<path d="M557.00,245.68 C557.26,243.98 558.04,242.96 560.25,243.08 C563.50,243.19 566.75,243.19 570.00,242.40 M565.06,243.30 C564.15,246.92 563.50,250.31 562.20,252.34 C561.42,253.47 560.12,253.81 559.08,253.13 " fill="none" stroke="#111" stroke-width="1.13" stroke-linecap="round"/>
<text x="565.2" y="255.2" font-family='"Liberation Serif", serif' font-size="10.5">3</text>
<text transform="translate(454.8,291.6) rotate(-90)" font-family='"Liberation Sans", sans-serif' font-size="11" text-anchor="middle">Average parameter</text>
<text transform="translate(465.7,291.6) rotate(-90)" font-family='"Liberation Sans", sans-serif' font-size="11" text-anchor="middle">changes</text>
<line x1="188.4" y1="182.2" x2="199.2" y2="182.2" stroke="#2bad78" stroke-width="1.3"/>
<circle cx="193.8" cy="182.2" r="1.8" fill="#2bad78"/>
<path d="M207.10,179.53 C207.31,178.01 207.96,177.10 209.78,177.21 C212.45,177.31 215.12,177.31 217.80,176.60 M213.73,177.41 C212.98,180.64 212.45,183.67 211.38,185.49 C210.74,186.50 209.67,186.80 208.81,186.19 " fill="none" stroke="#111" stroke-width="1.01" stroke-linecap="round"/>
<text x="213.8" y="187.79999999999998" font-family='"Liberation Serif", serif' font-size="8.4">1</text>
<line x1="188.4" y1="196.6" x2="199.2" y2="196.6" stroke="#3a6ec2" stroke-width="1.3"/>
<rect x="192" y="194.79999999999998" width="3.6" height="3.6" fill="#3a6ec2"/>
<path d="M207.10,193.93 C207.31,192.41 207.96,191.50 209.78,191.61 C212.45,191.71 215.12,191.71 217.80,191.00 M213.73,191.81 C212.98,195.04 212.45,198.07 211.38,199.89 C210.74,200.90 209.67,201.20 208.81,200.59 " fill="none" stroke="#111" stroke-width="1.01" stroke-linecap="round"/>
<text x="213.8" y="202.2" font-family='"Liberation Serif", serif' font-size="8.4">2</text>
<line x1="188.4" y1="211" x2="199.2" y2="211" stroke="#ee8a45" stroke-width="1.3"/>
<path d="M193.80,207.80 L194.65,209.84 L196.84,210.01 L195.17,211.44 L195.68,213.59 L193.80,212.44 L191.92,213.59 L192.43,211.44 L190.76,210.01 L192.95,209.84Z" fill="#ee8a45"/>
<path d="M207.10,208.33 C207.31,206.81 207.96,205.91 209.78,206.01 C212.45,206.11 215.12,206.11 217.80,205.40 M213.73,206.21 C212.98,209.44 212.45,212.47 211.38,214.29 C210.74,215.30 209.67,215.60 208.81,215.00 " fill="none" stroke="#111" stroke-width="1.01" stroke-linecap="round"/>
<text x="213.8" y="216.6" font-family='"Liberation Serif", serif' font-size="8.4">3</text>
<line x1="348.2" y1="127.9" x2="406" y2="127.9" stroke="#7a7a7a" stroke-width="1.7"/>
<path d="M405.2,124.1 L413.4,127.9 L405.2,131.7 Z" fill="#7a7a7a"/>
<text x="366.6" y="140.8" font-family='"Liberation Sans", sans-serif' font-size="12" textLength="49.6" lengthAdjust="spacingAndGlyphs">Accuracy</text>
<path d="M203.3,64.5 Q205,40 179.5,31.2" fill="none" stroke="#888" stroke-width="1.8"/>
<path d="M174.2,28.2 L183.1,28.3 L180.2,31.2 L179.6,35.3 Z" fill="#858585" stroke="#858585" stroke-width="0.5" stroke-linejoin="round"/>
<text transform="translate(205.0,40.6) rotate(54)" font-family='"Liberation Sans", sans-serif' font-size="12" text-anchor="middle" dy="4">Epochs</text>
</svg>
</body></html>
